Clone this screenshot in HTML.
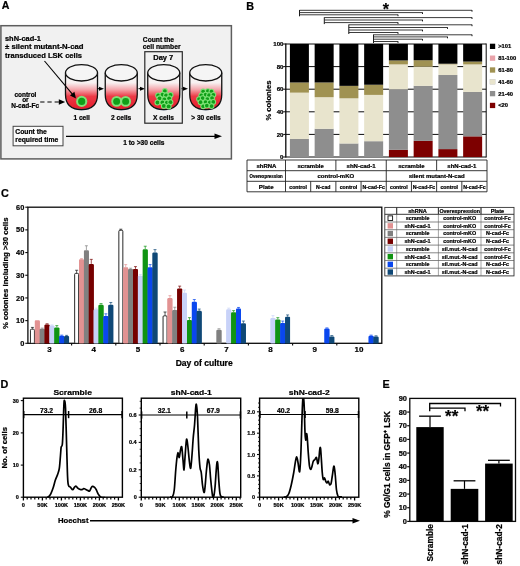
<!DOCTYPE html>
<html><head><meta charset="utf-8"><title>Figure</title>
<style>html,body{margin:0;padding:0;background:#fff;}body{width:520px;height:566px;overflow:hidden;}svg{display:block;filter:blur(0.25px);font-family:'Liberation Sans', sans-serif;}text{font-family:"Liberation Sans",sans-serif;stroke:#000;stroke-width:0.22px;}</style>
</head><body>
<svg width="520" height="566" viewBox="0 0 520 566">
<defs><linearGradient id="tubeg" x1="0" y1="0" x2="0" y2="1" gradientUnits="objectBoundingBox"><stop offset="0" stop-color="#f6f6f6"/><stop offset="0.27" stop-color="#f8f1f1"/><stop offset="0.45" stop-color="#f4a8ae"/><stop offset="0.64" stop-color="#ec3a46"/><stop offset="1" stop-color="#e51a2a"/></linearGradient></defs>
<rect width="520" height="566" fill="#fff"/>
<text x="1.7" y="9.1" font-size="10.6" font-weight="bold" fill="#000">A</text>
<rect x="0.90" y="25.70" width="230.50" height="133.20" fill="#f1f1f1" stroke="#5e5e5e" stroke-width="1.5"/>
<text x="5" y="40.6" font-size="7.3" font-weight="bold" fill="#000" textLength="35.8" lengthAdjust="spacingAndGlyphs">shN-cad-1</text>
<text x="5" y="49.2" font-size="7.3" font-weight="bold" fill="#000" textLength="78.5" lengthAdjust="spacingAndGlyphs">± silent mutant-N-cad</text>
<text x="5" y="57.9" font-size="7.3" font-weight="bold" fill="#000" textLength="77" lengthAdjust="spacingAndGlyphs">transduced LSK cells</text>
<text x="25.4" y="97" font-size="6.5" font-weight="bold" fill="#000" text-anchor="middle">control</text>
<text x="25.4" y="102.4" font-size="6.5" font-weight="bold" fill="#000" text-anchor="middle">or</text>
<text x="25.1" y="107.9" font-size="6.5" font-weight="bold" fill="#000" text-anchor="middle">N-cad-Fc</text>
<line x1="40.2" y1="102" x2="59" y2="102" stroke="#000" stroke-width="1.1" stroke-dasharray="4.3 2.9"/>
<polygon points="65.2,102 58.8,99.3 58.8,104.7" fill="#000"/>
<path d="M65.5,72.8 L65.5,94.5 C65.5,105.5 72.5,109.6 81.5,109.6 C90.5,109.6 97.5,105.5 97.5,94.5 L97.5,72.8 Z" fill="url(#tubeg)"/>
<path d="M73.5,108.4 Q81.5,110.8 89.5,108.4" fill="none" stroke="#5a7fae" stroke-width="1.2"/>
<path d="M65.5,72.8 L65.5,94.5 C65.5,105.5 72.5,109.6 81.5,109.6 C90.5,109.6 97.5,105.5 97.5,94.5 L97.5,72.8" fill="none" stroke="#111" stroke-width="1.3"/>
<ellipse cx="81.5" cy="72.8" rx="16" ry="8.2" fill="#f5f5f5" stroke="#111" stroke-width="1.3"/>
<circle cx="81.70" cy="101.40" r="5.60" fill="#7fe277"/>
<circle cx="81.70" cy="101.40" r="3.58" fill="#0f9f18"/>
<path d="M105.25,72.8 L105.25,94.5 C105.25,105.5 112.25,109.6 121.25,109.6 C130.25,109.6 137.25,105.5 137.25,94.5 L137.25,72.8 Z" fill="url(#tubeg)"/>
<path d="M113.25,108.4 Q121.25,110.8 129.25,108.4" fill="none" stroke="#5a7fae" stroke-width="1.2"/>
<path d="M105.25,72.8 L105.25,94.5 C105.25,105.5 112.25,109.6 121.25,109.6 C130.25,109.6 137.25,105.5 137.25,94.5 L137.25,72.8" fill="none" stroke="#111" stroke-width="1.3"/>
<ellipse cx="121.25" cy="72.8" rx="16" ry="8.2" fill="#f5f5f5" stroke="#111" stroke-width="1.3"/>
<circle cx="116.65" cy="101.40" r="5.40" fill="#7fe277"/>
<circle cx="116.65" cy="101.40" r="3.46" fill="#0f9f18"/>
<circle cx="125.65" cy="101.40" r="5.40" fill="#7fe277"/>
<circle cx="125.65" cy="101.40" r="3.46" fill="#0f9f18"/>
<path d="M147.75,72.8 L147.75,94.5 C147.75,105.5 154.75,109.6 163.75,109.6 C172.75,109.6 179.75,105.5 179.75,94.5 L179.75,72.8 Z" fill="url(#tubeg)"/>
<path d="M155.75,108.4 Q163.75,110.8 171.75,108.4" fill="none" stroke="#5a7fae" stroke-width="1.2"/>
<path d="M147.75,72.8 L147.75,94.5 C147.75,105.5 154.75,109.6 163.75,109.6 C172.75,109.6 179.75,105.5 179.75,94.5 L179.75,72.8" fill="none" stroke="#111" stroke-width="1.3"/>
<ellipse cx="163.75" cy="72.8" rx="16" ry="8.2" fill="#f5f5f5" stroke="#111" stroke-width="1.3"/>
<circle cx="164.85" cy="91.06" r="3.00" fill="#7fe277"/>
<circle cx="164.85" cy="91.06" r="1.92" fill="#0f9f18"/>
<circle cx="158.18" cy="95.48" r="3.00" fill="#7fe277"/>
<circle cx="158.18" cy="95.48" r="1.92" fill="#0f9f18"/>
<circle cx="162.58" cy="94.75" r="3.00" fill="#7fe277"/>
<circle cx="162.58" cy="94.75" r="1.92" fill="#0f9f18"/>
<circle cx="166.13" cy="95.30" r="3.00" fill="#7fe277"/>
<circle cx="166.13" cy="95.30" r="1.92" fill="#0f9f18"/>
<circle cx="170.52" cy="94.96" r="3.00" fill="#7fe277"/>
<circle cx="170.52" cy="94.96" r="1.92" fill="#0f9f18"/>
<circle cx="159.55" cy="98.31" r="3.00" fill="#7fe277"/>
<circle cx="159.55" cy="98.31" r="1.92" fill="#0f9f18"/>
<circle cx="164.35" cy="99.30" r="3.00" fill="#7fe277"/>
<circle cx="164.35" cy="99.30" r="1.92" fill="#0f9f18"/>
<circle cx="169.15" cy="98.31" r="3.00" fill="#7fe277"/>
<circle cx="169.15" cy="98.31" r="1.92" fill="#0f9f18"/>
<circle cx="157.45" cy="102.52" r="3.00" fill="#7fe277"/>
<circle cx="157.45" cy="102.52" r="1.92" fill="#0f9f18"/>
<circle cx="162.48" cy="102.41" r="3.00" fill="#7fe277"/>
<circle cx="162.48" cy="102.41" r="1.92" fill="#0f9f18"/>
<circle cx="166.87" cy="102.75" r="3.00" fill="#7fe277"/>
<circle cx="166.87" cy="102.75" r="1.92" fill="#0f9f18"/>
<circle cx="170.42" cy="102.20" r="3.00" fill="#7fe277"/>
<circle cx="170.42" cy="102.20" r="1.92" fill="#0f9f18"/>
<circle cx="163.85" cy="105.95" r="3.00" fill="#7fe277"/>
<circle cx="163.85" cy="105.95" r="1.92" fill="#0f9f18"/>
<circle cx="168.66" cy="106.44" r="3.00" fill="#7fe277"/>
<circle cx="168.66" cy="106.44" r="1.92" fill="#0f9f18"/>
<path d="M189.75,72.8 L189.75,94.5 C189.75,105.5 196.75,109.6 205.75,109.6 C214.75,109.6 221.75,105.5 221.75,94.5 L221.75,72.8 Z" fill="url(#tubeg)"/>
<path d="M197.75,108.4 Q205.75,110.8 213.75,108.4" fill="none" stroke="#5a7fae" stroke-width="1.2"/>
<path d="M189.75,72.8 L189.75,94.5 C189.75,105.5 196.75,109.6 205.75,109.6 C214.75,109.6 221.75,105.5 221.75,94.5 L221.75,72.8" fill="none" stroke="#111" stroke-width="1.3"/>
<ellipse cx="205.75" cy="72.8" rx="16" ry="8.2" fill="#f5f5f5" stroke="#111" stroke-width="1.3"/>
<circle cx="203.14" cy="91.51" r="2.90" fill="#7fe277"/>
<circle cx="203.14" cy="91.51" r="1.86" fill="#0f9f18"/>
<circle cx="207.85" cy="91.03" r="2.90" fill="#7fe277"/>
<circle cx="207.85" cy="91.03" r="1.86" fill="#0f9f18"/>
<circle cx="211.43" cy="91.71" r="2.90" fill="#7fe277"/>
<circle cx="211.43" cy="91.71" r="1.86" fill="#0f9f18"/>
<circle cx="201.33" cy="95.37" r="2.90" fill="#7fe277"/>
<circle cx="201.33" cy="95.37" r="1.86" fill="#0f9f18"/>
<circle cx="205.63" cy="94.64" r="2.90" fill="#7fe277"/>
<circle cx="205.63" cy="94.64" r="1.86" fill="#0f9f18"/>
<circle cx="209.08" cy="95.19" r="2.90" fill="#7fe277"/>
<circle cx="209.08" cy="95.19" r="1.86" fill="#0f9f18"/>
<circle cx="213.37" cy="94.85" r="2.90" fill="#7fe277"/>
<circle cx="213.37" cy="94.85" r="1.86" fill="#0f9f18"/>
<circle cx="199.08" cy="99.04" r="2.90" fill="#7fe277"/>
<circle cx="199.08" cy="99.04" r="1.86" fill="#0f9f18"/>
<circle cx="202.65" cy="98.11" r="2.90" fill="#7fe277"/>
<circle cx="202.65" cy="98.11" r="1.86" fill="#0f9f18"/>
<circle cx="207.35" cy="99.10" r="2.90" fill="#7fe277"/>
<circle cx="207.35" cy="99.10" r="1.86" fill="#0f9f18"/>
<circle cx="212.05" cy="98.11" r="2.90" fill="#7fe277"/>
<circle cx="212.05" cy="98.11" r="1.86" fill="#0f9f18"/>
<circle cx="200.60" cy="102.23" r="2.90" fill="#7fe277"/>
<circle cx="200.60" cy="102.23" r="1.86" fill="#0f9f18"/>
<circle cx="205.53" cy="102.12" r="2.90" fill="#7fe277"/>
<circle cx="205.53" cy="102.12" r="1.86" fill="#0f9f18"/>
<circle cx="209.82" cy="102.46" r="2.90" fill="#7fe277"/>
<circle cx="209.82" cy="102.46" r="1.86" fill="#0f9f18"/>
<circle cx="213.27" cy="101.91" r="2.90" fill="#7fe277"/>
<circle cx="213.27" cy="101.91" r="1.86" fill="#0f9f18"/>
<circle cx="203.27" cy="106.26" r="2.90" fill="#7fe277"/>
<circle cx="203.27" cy="106.26" r="1.86" fill="#0f9f18"/>
<circle cx="206.85" cy="105.58" r="2.90" fill="#7fe277"/>
<circle cx="206.85" cy="105.58" r="1.86" fill="#0f9f18"/>
<circle cx="211.56" cy="106.06" r="2.90" fill="#7fe277"/>
<circle cx="211.56" cy="106.06" r="1.86" fill="#0f9f18"/>
<line x1="44.5" y1="61" x2="73.2" y2="95.2" stroke="#000" stroke-width="1.1"/>
<polygon points="76,98.5 70.0,95.4 74.4,91.8" fill="#000"/>
<polygon points="104.0,88.7 99.0,86.7 99.0,90.7" fill="#000"/>
<line x1="97.5" y1="88.7" x2="99.5" y2="88.7" stroke="#000" stroke-width="1"/>
<polygon points="145.0,88.7 140.0,86.7 140.0,90.7" fill="#000"/>
<line x1="138.5" y1="88.7" x2="140.5" y2="88.7" stroke="#000" stroke-width="1"/>
<polygon points="188.0,88.7 183.0,86.7 183.0,90.7" fill="#000"/>
<line x1="181.5" y1="88.7" x2="183.5" y2="88.7" stroke="#000" stroke-width="1"/>
<rect x="144.80" y="51.70" width="37.50" height="71.50" fill="none" stroke="#2a2a2a" stroke-width="1.2"/>
<text x="142.8" y="41.6" font-size="6.7" font-weight="bold" fill="#000">Count the</text>
<text x="142.8" y="49.1" font-size="6.7" font-weight="bold" fill="#000" textLength="37.8" lengthAdjust="spacingAndGlyphs">cell number</text>
<text x="163.3" y="60.4" font-size="7.5" font-weight="bold" fill="#000" text-anchor="middle">Day 7</text>
<text x="81.7" y="119.5" font-size="6.6" font-weight="bold" fill="#000" text-anchor="middle">1 cell</text>
<text x="121.2" y="119.5" font-size="6.6" font-weight="bold" fill="#000" text-anchor="middle">2 cells</text>
<text x="163.5" y="119.5" font-size="6.6" font-weight="bold" fill="#000" text-anchor="middle">X cells</text>
<text x="206" y="119.5" font-size="6.6" font-weight="bold" fill="#000" text-anchor="middle">&gt; 30 cells</text>
<rect x="13.10" y="126.30" width="49.90" height="19.50" fill="#fbfbfb" stroke="#444" stroke-width="1"/>
<text x="15.3" y="134.2" font-size="6.8" font-weight="bold" fill="#000" textLength="31.6" lengthAdjust="spacingAndGlyphs">Count the</text>
<text x="15.3" y="142.2" font-size="6.8" font-weight="bold" fill="#000" textLength="43" lengthAdjust="spacingAndGlyphs">required time</text>
<line x1="66" y1="136.4" x2="216" y2="136.4" stroke="#000" stroke-width="1.3"/>
<polygon points="222,136.3 214.5,133.6 214.5,139" fill="#000"/>
<text x="143.8" y="145" font-size="6.6" font-weight="bold" fill="#000" text-anchor="middle">1 to &gt;30 cells</text>
<text x="246.3" y="9.6" font-size="10.8" font-weight="bold" fill="#000">B</text>
<line x1="299.5" y1="10.0" x2="299.5" y2="16.3" stroke="#1a1a1a" stroke-width="1.0"/>
<line x1="299.5" y1="10.3" x2="472.0" y2="10.3" stroke="#262626" stroke-width="0.9"/>
<line x1="472.0" y1="10.100000000000001" x2="472.0" y2="11.700000000000001" stroke="#1a1a1a" stroke-width="1.0"/>
<line x1="299.5" y1="12.6" x2="422.5" y2="12.6" stroke="#262626" stroke-width="0.9"/>
<line x1="422.5" y1="12.4" x2="422.5" y2="14.0" stroke="#1a1a1a" stroke-width="1.0"/>
<line x1="299.5" y1="14.8" x2="398.0" y2="14.8" stroke="#262626" stroke-width="0.9"/>
<line x1="398.0" y1="14.600000000000001" x2="398.0" y2="16.2" stroke="#1a1a1a" stroke-width="1.0"/>
<line x1="324.3" y1="17.3" x2="324.3" y2="24.1" stroke="#1a1a1a" stroke-width="1.0"/>
<line x1="324.3" y1="17.6" x2="472.0" y2="17.6" stroke="#262626" stroke-width="0.9"/>
<line x1="472.0" y1="17.400000000000002" x2="472.0" y2="19.0" stroke="#1a1a1a" stroke-width="1.0"/>
<line x1="324.3" y1="20.0" x2="422.5" y2="20.0" stroke="#262626" stroke-width="0.9"/>
<line x1="422.5" y1="19.8" x2="422.5" y2="21.4" stroke="#1a1a1a" stroke-width="1.0"/>
<line x1="324.3" y1="22.6" x2="398.0" y2="22.6" stroke="#262626" stroke-width="0.9"/>
<line x1="398.0" y1="22.400000000000002" x2="398.0" y2="24.0" stroke="#1a1a1a" stroke-width="1.0"/>
<line x1="348.8" y1="24.5" x2="348.8" y2="34.0" stroke="#1a1a1a" stroke-width="1.0"/>
<line x1="348.8" y1="24.8" x2="472.0" y2="24.8" stroke="#262626" stroke-width="0.9"/>
<line x1="472.0" y1="24.6" x2="472.0" y2="26.2" stroke="#1a1a1a" stroke-width="1.0"/>
<line x1="348.8" y1="27.5" x2="447.5" y2="27.5" stroke="#262626" stroke-width="0.9"/>
<line x1="447.5" y1="27.3" x2="447.5" y2="28.9" stroke="#1a1a1a" stroke-width="1.0"/>
<line x1="348.8" y1="30.0" x2="422.5" y2="30.0" stroke="#262626" stroke-width="0.9"/>
<line x1="422.5" y1="29.8" x2="422.5" y2="31.4" stroke="#1a1a1a" stroke-width="1.0"/>
<line x1="348.8" y1="32.5" x2="398.0" y2="32.5" stroke="#262626" stroke-width="0.9"/>
<line x1="398.0" y1="32.3" x2="398.0" y2="33.9" stroke="#1a1a1a" stroke-width="1.0"/>
<line x1="373.5" y1="34.5" x2="373.5" y2="43.0" stroke="#1a1a1a" stroke-width="1.0"/>
<line x1="373.5" y1="34.8" x2="472.0" y2="34.8" stroke="#262626" stroke-width="0.9"/>
<line x1="472.0" y1="34.599999999999994" x2="472.0" y2="36.199999999999996" stroke="#1a1a1a" stroke-width="1.0"/>
<line x1="373.5" y1="36.9" x2="447.5" y2="36.9" stroke="#262626" stroke-width="0.9"/>
<line x1="447.5" y1="36.699999999999996" x2="447.5" y2="38.3" stroke="#1a1a1a" stroke-width="1.0"/>
<line x1="373.5" y1="39.2" x2="422.5" y2="39.2" stroke="#262626" stroke-width="0.9"/>
<line x1="422.5" y1="39.0" x2="422.5" y2="40.6" stroke="#1a1a1a" stroke-width="1.0"/>
<line x1="373.5" y1="41.5" x2="398.0" y2="41.5" stroke="#262626" stroke-width="0.9"/>
<line x1="398.0" y1="41.3" x2="398.0" y2="42.9" stroke="#1a1a1a" stroke-width="1.0"/>
<text x="385.8" y="14.9" font-size="16" font-weight="bold" fill="#000" text-anchor="middle">*</text>
<line x1="283.2" y1="134.4" x2="486.2" y2="134.4" stroke="#0a0a0a" stroke-width="1.0"/>
<line x1="283.2" y1="111.8" x2="486.2" y2="111.8" stroke="#0a0a0a" stroke-width="1.0"/>
<line x1="283.2" y1="89.2" x2="486.2" y2="89.2" stroke="#0a0a0a" stroke-width="1.0"/>
<line x1="283.2" y1="66.6" x2="486.2" y2="66.6" stroke="#0a0a0a" stroke-width="1.0"/>
<line x1="283.2" y1="44.0" x2="486.2" y2="44.0" stroke="#0a0a0a" stroke-width="1.0"/>
<line x1="285.8" y1="43.5" x2="285.8" y2="157.5" stroke="#0a0a0a" stroke-width="1.3"/>
<line x1="486.2" y1="43.5" x2="486.2" y2="157.5" stroke="#0a0a0a" stroke-width="1.0"/>
<line x1="283.2" y1="157.0" x2="486.2" y2="157.0" stroke="#0a0a0a" stroke-width="1.2"/>
<rect x="289.90" y="138.92" width="19.00" height="18.13" fill="#8e8e8e" stroke="none" stroke-width="1"/>
<rect x="289.90" y="92.59" width="19.00" height="46.38" fill="#e8e4cd" stroke="none" stroke-width="1"/>
<rect x="289.90" y="82.42" width="19.00" height="10.22" fill="#a09252" stroke="none" stroke-width="1"/>
<rect x="289.90" y="44.00" width="19.00" height="38.47" fill="#000" stroke="none" stroke-width="1"/>
<rect x="314.65" y="128.75" width="19.00" height="28.30" fill="#8e8e8e" stroke="none" stroke-width="1"/>
<rect x="314.65" y="97.11" width="19.00" height="31.69" fill="#e8e4cd" stroke="none" stroke-width="1"/>
<rect x="314.65" y="82.42" width="19.00" height="14.74" fill="#a09252" stroke="none" stroke-width="1"/>
<rect x="314.65" y="44.00" width="19.00" height="38.47" fill="#000" stroke="none" stroke-width="1"/>
<rect x="339.40" y="143.44" width="19.00" height="13.61" fill="#8e8e8e" stroke="none" stroke-width="1"/>
<rect x="339.40" y="98.24" width="19.00" height="45.25" fill="#e8e4cd" stroke="none" stroke-width="1"/>
<rect x="339.40" y="85.81" width="19.00" height="12.48" fill="#a09252" stroke="none" stroke-width="1"/>
<rect x="339.40" y="44.00" width="19.00" height="41.86" fill="#000" stroke="none" stroke-width="1"/>
<rect x="364.15" y="141.18" width="19.00" height="15.87" fill="#8e8e8e" stroke="none" stroke-width="1"/>
<rect x="364.15" y="94.85" width="19.00" height="46.38" fill="#e8e4cd" stroke="none" stroke-width="1"/>
<rect x="364.15" y="84.68" width="19.00" height="10.22" fill="#a09252" stroke="none" stroke-width="1"/>
<rect x="364.15" y="44.00" width="19.00" height="40.73" fill="#000" stroke="none" stroke-width="1"/>
<rect x="388.90" y="149.77" width="19.00" height="7.28" fill="#7d0000" stroke="none" stroke-width="1"/>
<rect x="388.90" y="89.20" width="19.00" height="60.62" fill="#8e8e8e" stroke="none" stroke-width="1"/>
<rect x="388.90" y="64.34" width="19.00" height="24.91" fill="#e8e4cd" stroke="none" stroke-width="1"/>
<rect x="388.90" y="60.39" width="19.00" height="4.00" fill="#a09252" stroke="none" stroke-width="1"/>
<rect x="388.90" y="44.00" width="19.00" height="16.44" fill="#000" stroke="none" stroke-width="1"/>
<rect x="413.65" y="140.84" width="19.00" height="16.21" fill="#7d0000" stroke="none" stroke-width="1"/>
<rect x="413.65" y="85.81" width="19.00" height="55.08" fill="#8e8e8e" stroke="none" stroke-width="1"/>
<rect x="413.65" y="66.60" width="19.00" height="19.26" fill="#e8e4cd" stroke="none" stroke-width="1"/>
<rect x="413.65" y="60.16" width="19.00" height="6.49" fill="#a09252" stroke="none" stroke-width="1"/>
<rect x="413.65" y="44.00" width="19.00" height="16.21" fill="#000" stroke="none" stroke-width="1"/>
<rect x="438.40" y="149.09" width="19.00" height="7.96" fill="#7d0000" stroke="none" stroke-width="1"/>
<rect x="438.40" y="74.96" width="19.00" height="74.18" fill="#8e8e8e" stroke="none" stroke-width="1"/>
<rect x="438.40" y="64.34" width="19.00" height="10.67" fill="#e8e4cd" stroke="none" stroke-width="1"/>
<rect x="438.40" y="63.66" width="19.00" height="0.73" fill="#a09252" stroke="none" stroke-width="1"/>
<rect x="438.40" y="44.00" width="19.00" height="19.71" fill="#000" stroke="none" stroke-width="1"/>
<rect x="463.15" y="136.32" width="19.00" height="20.73" fill="#7d0000" stroke="none" stroke-width="1"/>
<rect x="463.15" y="91.91" width="19.00" height="44.46" fill="#8e8e8e" stroke="none" stroke-width="1"/>
<rect x="463.15" y="64.34" width="19.00" height="27.62" fill="#e8e4cd" stroke="none" stroke-width="1"/>
<rect x="463.15" y="61.52" width="19.00" height="2.88" fill="#a09252" stroke="none" stroke-width="1"/>
<rect x="463.15" y="44.00" width="19.00" height="17.57" fill="#000" stroke="none" stroke-width="1"/>
<text x="283.5" y="159.2" font-size="6.1" font-weight="bold" fill="#000" text-anchor="end">0</text>
<text x="283.5" y="136.6" font-size="6.1" font-weight="bold" fill="#000" text-anchor="end">20</text>
<text x="283.5" y="114.0" font-size="6.1" font-weight="bold" fill="#000" text-anchor="end">40</text>
<text x="283.5" y="91.4" font-size="6.1" font-weight="bold" fill="#000" text-anchor="end">60</text>
<text x="283.5" y="68.8" font-size="6.1" font-weight="bold" fill="#000" text-anchor="end">80</text>
<text x="283.5" y="46.2" font-size="6.1" font-weight="bold" fill="#000" text-anchor="end">100</text>
<text x="270.8" y="100.6" font-size="7.6" font-weight="bold" fill="#000" text-anchor="middle" textLength="40" lengthAdjust="spacingAndGlyphs" transform="rotate(-90 270.8 100.6)">% colonies</text>
<rect x="489.90" y="43.70" width="5.30" height="5.30" fill="#000" stroke="none" stroke-width="0.3"/>
<text x="498.2" y="48.3" font-size="5.8" font-weight="bold" fill="#000">&gt;101</text>
<rect x="489.90" y="55.52" width="5.30" height="5.30" fill="#e9a3aa" stroke="none" stroke-width="0.3"/>
<text x="498.2" y="60.12" font-size="5.8" font-weight="bold" fill="#000">81-100</text>
<rect x="489.90" y="67.34" width="5.30" height="5.30" fill="#a09252" stroke="none" stroke-width="0.3"/>
<text x="498.2" y="71.94" font-size="5.8" font-weight="bold" fill="#000">61-80</text>
<rect x="489.90" y="79.16" width="5.30" height="5.30" fill="#e8e4cd" stroke="#bbb" stroke-width="0.3"/>
<text x="498.2" y="83.76" font-size="5.8" font-weight="bold" fill="#000">41-60</text>
<rect x="489.90" y="90.98" width="5.30" height="5.30" fill="#8e8e8e" stroke="none" stroke-width="0.3"/>
<text x="498.2" y="95.58" font-size="5.8" font-weight="bold" fill="#000">21-40</text>
<rect x="489.90" y="102.80" width="5.30" height="5.30" fill="#7d0000" stroke="none" stroke-width="0.3"/>
<text x="498.2" y="107.4" font-size="5.8" font-weight="bold" fill="#000">&lt;20</text>
<line x1="247.0" y1="160.0" x2="487.0" y2="160.0" stroke="#222" stroke-width="0.9"/>
<line x1="247.0" y1="170.7" x2="487.0" y2="170.7" stroke="#222" stroke-width="0.9"/>
<line x1="247.0" y1="181.3" x2="487.0" y2="181.3" stroke="#222" stroke-width="0.9"/>
<line x1="247.0" y1="191.8" x2="487.0" y2="191.8" stroke="#222" stroke-width="0.9"/>
<line x1="247.0" y1="160.0" x2="247.0" y2="191.8" stroke="#222" stroke-width="0.9"/>
<line x1="487.0" y1="160.0" x2="487.0" y2="191.8" stroke="#222" stroke-width="0.9"/>
<line x1="285.5" y1="160.0" x2="285.5" y2="191.8" stroke="#222" stroke-width="0.9"/>
<line x1="386.26" y1="160.0" x2="386.26" y2="191.8" stroke="#222" stroke-width="0.9"/>
<line x1="335.88" y1="160.0" x2="335.88" y2="170.7" stroke="#222" stroke-width="0.9"/>
<line x1="436.64" y1="160.0" x2="436.64" y2="170.7" stroke="#222" stroke-width="0.9"/>
<line x1="310.69" y1="181.3" x2="310.69" y2="191.8" stroke="#222" stroke-width="0.9"/>
<line x1="335.88" y1="181.3" x2="335.88" y2="191.8" stroke="#222" stroke-width="0.9"/>
<line x1="361.07" y1="181.3" x2="361.07" y2="191.8" stroke="#222" stroke-width="0.9"/>
<line x1="411.45" y1="181.3" x2="411.45" y2="191.8" stroke="#222" stroke-width="0.9"/>
<line x1="436.64" y1="181.3" x2="436.64" y2="191.8" stroke="#222" stroke-width="0.9"/>
<line x1="461.83000000000004" y1="181.3" x2="461.83000000000004" y2="191.8" stroke="#222" stroke-width="0.9"/>
<text x="266.4" y="167.7" font-size="6.0" font-weight="bold" fill="#000" text-anchor="middle">shRNA</text>
<text x="266.2" y="177.9" font-size="5.0" font-weight="bold" fill="#000" text-anchor="middle" textLength="33.2" lengthAdjust="spacingAndGlyphs">Overexpression</text>
<text x="266.2" y="188.8" font-size="6.2" font-weight="bold" fill="#000" text-anchor="middle">Plate</text>
<text x="310.69" y="167.7" font-size="6.0" font-weight="bold" fill="#000" text-anchor="middle">scramble</text>
<text x="361.07" y="167.7" font-size="6.0" font-weight="bold" fill="#000" text-anchor="middle">shN-cad-1</text>
<text x="411.45" y="167.7" font-size="6.0" font-weight="bold" fill="#000" text-anchor="middle">scramble</text>
<text x="461.83" y="167.7" font-size="6.0" font-weight="bold" fill="#000" text-anchor="middle">shN-cad-1</text>
<text x="335.88" y="178.2" font-size="6.0" font-weight="bold" fill="#000" text-anchor="middle">control-mKO</text>
<text x="436.64" y="178.2" font-size="6.0" font-weight="bold" fill="#000" text-anchor="middle">silent mutant-N-cad</text>
<text x="298.1" y="188.7" font-size="5.2" font-weight="bold" fill="#000" text-anchor="middle">control</text>
<text x="323.28" y="188.7" font-size="5.2" font-weight="bold" fill="#000" text-anchor="middle">N-cad</text>
<text x="348.48" y="188.7" font-size="5.2" font-weight="bold" fill="#000" text-anchor="middle">control</text>
<text x="373.66" y="188.7" font-size="5.2" font-weight="bold" fill="#000" text-anchor="middle" textLength="22.5" lengthAdjust="spacingAndGlyphs">N-cad-Fc</text>
<text x="398.86" y="188.7" font-size="5.2" font-weight="bold" fill="#000" text-anchor="middle">control</text>
<text x="424.04" y="188.7" font-size="5.2" font-weight="bold" fill="#000" text-anchor="middle" textLength="22.5" lengthAdjust="spacingAndGlyphs">N-cad-Fc</text>
<text x="449.24" y="188.7" font-size="5.2" font-weight="bold" fill="#000" text-anchor="middle">control</text>
<text x="474.43" y="188.7" font-size="5.2" font-weight="bold" fill="#000" text-anchor="middle" textLength="22.5" lengthAdjust="spacingAndGlyphs">N-cad-Fc</text>
<text x="0.9" y="196.6" font-size="10.8" font-weight="bold" fill="#000">C</text>
<rect x="27.90" y="207.20" width="353.90" height="136.10" fill="#fff" stroke="#0a0a0a" stroke-width="1.3"/>
<line x1="32.44" y1="327.42" x2="32.44" y2="328.78" stroke="#111" stroke-width="0.7"/>
<line x1="30.94" y1="327.42" x2="33.94" y2="327.42" stroke="#111" stroke-width="0.7"/>
<rect x="30.45" y="329.18" width="3.98" height="14.12" fill="#fff" stroke="#111" stroke-width="0.9" rx="1"/>
<rect x="34.88" y="320.16" width="4.88" height="23.14" fill="#e29292" stroke="none" stroke-width="1" rx="0.8"/>
<rect x="34.88" y="321.16" width="4.88" height="22.14" fill="#e29292" stroke="none" stroke-width="1"/>
<line x1="42.2" y1="328.1" x2="42.2" y2="328.78" stroke="#808080" stroke-width="0.7"/>
<line x1="40.7" y1="328.1" x2="43.7" y2="328.1" stroke="#808080" stroke-width="0.7"/>
<rect x="39.76" y="328.78" width="4.88" height="14.52" fill="#808080" stroke="none" stroke-width="1" rx="0.8"/>
<rect x="39.76" y="329.78" width="4.88" height="13.52" fill="#808080" stroke="none" stroke-width="1"/>
<line x1="47.08" y1="323.79" x2="47.08" y2="324.47" stroke="#760000" stroke-width="0.7"/>
<line x1="45.58" y1="323.79" x2="48.58" y2="323.79" stroke="#760000" stroke-width="0.7"/>
<rect x="44.64" y="324.47" width="4.88" height="18.83" fill="#760000" stroke="none" stroke-width="1" rx="0.8"/>
<rect x="44.64" y="325.47" width="4.88" height="17.83" fill="#760000" stroke="none" stroke-width="1"/>
<line x1="51.96" y1="324.93" x2="51.96" y2="325.61" stroke="#c8d2f8" stroke-width="0.7"/>
<line x1="50.46" y1="324.93" x2="53.46" y2="324.93" stroke="#c8d2f8" stroke-width="0.7"/>
<rect x="49.52" y="325.61" width="4.88" height="17.69" fill="#c8d2f8" stroke="none" stroke-width="1" rx="0.8"/>
<rect x="49.52" y="326.61" width="4.88" height="16.69" fill="#c8d2f8" stroke="none" stroke-width="1"/>
<line x1="56.84" y1="325.61" x2="56.84" y2="327.42" stroke="#109413" stroke-width="0.7"/>
<line x1="55.34" y1="325.61" x2="58.34" y2="325.61" stroke="#109413" stroke-width="0.7"/>
<rect x="54.40" y="327.42" width="4.88" height="15.88" fill="#109413" stroke="none" stroke-width="1" rx="0.8"/>
<rect x="54.40" y="328.42" width="4.88" height="14.88" fill="#109413" stroke="none" stroke-width="1"/>
<line x1="61.72" y1="335.13" x2="61.72" y2="335.81" stroke="#0a47ee" stroke-width="0.7"/>
<line x1="60.22" y1="335.13" x2="63.22" y2="335.13" stroke="#0a47ee" stroke-width="0.7"/>
<rect x="59.28" y="335.81" width="4.88" height="7.49" fill="#0a47ee" stroke="none" stroke-width="1" rx="0.8"/>
<rect x="59.28" y="336.81" width="4.88" height="6.49" fill="#0a47ee" stroke="none" stroke-width="1"/>
<line x1="66.6" y1="335.36" x2="66.6" y2="336.04" stroke="#0f4876" stroke-width="0.7"/>
<line x1="65.1" y1="335.36" x2="68.1" y2="335.36" stroke="#0f4876" stroke-width="0.7"/>
<rect x="64.16" y="336.04" width="4.88" height="7.26" fill="#0f4876" stroke="none" stroke-width="1" rx="0.8"/>
<rect x="64.16" y="337.04" width="4.88" height="6.26" fill="#0f4876" stroke="none" stroke-width="1"/>
<line x1="76.64" y1="270.26" x2="76.64" y2="272.98" stroke="#111" stroke-width="0.7"/>
<line x1="75.14" y1="270.26" x2="78.14" y2="270.26" stroke="#111" stroke-width="0.7"/>
<rect x="74.65" y="273.38" width="3.98" height="69.92" fill="#fff" stroke="#111" stroke-width="0.9" rx="1"/>
<line x1="81.52" y1="258.69" x2="81.52" y2="259.37" stroke="#e29292" stroke-width="0.7"/>
<line x1="80.02" y1="258.69" x2="83.02" y2="258.69" stroke="#e29292" stroke-width="0.7"/>
<rect x="79.08" y="259.37" width="4.88" height="83.93" fill="#e29292" stroke="none" stroke-width="1" rx="0.8"/>
<rect x="79.08" y="260.37" width="4.88" height="82.93" fill="#e29292" stroke="none" stroke-width="1"/>
<line x1="86.4" y1="245.76" x2="86.4" y2="250.3" stroke="#808080" stroke-width="0.7"/>
<line x1="84.9" y1="245.76" x2="87.9" y2="245.76" stroke="#808080" stroke-width="0.7"/>
<rect x="83.96" y="250.30" width="4.88" height="93.00" fill="#808080" stroke="none" stroke-width="1" rx="0.8"/>
<rect x="83.96" y="251.30" width="4.88" height="92.00" fill="#808080" stroke="none" stroke-width="1"/>
<line x1="91.28" y1="259.37" x2="91.28" y2="263.91" stroke="#760000" stroke-width="0.7"/>
<line x1="89.78" y1="259.37" x2="92.78" y2="259.37" stroke="#760000" stroke-width="0.7"/>
<rect x="88.84" y="263.91" width="4.88" height="79.39" fill="#760000" stroke="none" stroke-width="1" rx="0.8"/>
<rect x="88.84" y="264.91" width="4.88" height="78.39" fill="#760000" stroke="none" stroke-width="1"/>
<line x1="96.16" y1="308.14" x2="96.16" y2="309.27" stroke="#c8d2f8" stroke-width="0.7"/>
<line x1="94.66" y1="308.14" x2="97.66" y2="308.14" stroke="#c8d2f8" stroke-width="0.7"/>
<rect x="93.72" y="309.27" width="4.88" height="34.03" fill="#c8d2f8" stroke="none" stroke-width="1" rx="0.8"/>
<rect x="93.72" y="310.27" width="4.88" height="33.03" fill="#c8d2f8" stroke="none" stroke-width="1"/>
<line x1="101.04" y1="303.6" x2="101.04" y2="304.74" stroke="#109413" stroke-width="0.7"/>
<line x1="99.54" y1="303.6" x2="102.54" y2="303.6" stroke="#109413" stroke-width="0.7"/>
<rect x="98.60" y="304.74" width="4.88" height="38.56" fill="#109413" stroke="none" stroke-width="1" rx="0.8"/>
<rect x="98.60" y="305.74" width="4.88" height="37.56" fill="#109413" stroke="none" stroke-width="1"/>
<line x1="105.92" y1="313.81" x2="105.92" y2="316.08" stroke="#0a47ee" stroke-width="0.7"/>
<line x1="104.42" y1="313.81" x2="107.42" y2="313.81" stroke="#0a47ee" stroke-width="0.7"/>
<rect x="103.48" y="316.08" width="4.88" height="27.22" fill="#0a47ee" stroke="none" stroke-width="1" rx="0.8"/>
<rect x="103.48" y="317.08" width="4.88" height="26.22" fill="#0a47ee" stroke="none" stroke-width="1"/>
<line x1="110.8" y1="302.47" x2="110.8" y2="304.74" stroke="#0f4876" stroke-width="0.7"/>
<line x1="109.3" y1="302.47" x2="112.3" y2="302.47" stroke="#0f4876" stroke-width="0.7"/>
<rect x="108.36" y="304.74" width="4.88" height="38.56" fill="#0f4876" stroke="none" stroke-width="1" rx="0.8"/>
<rect x="108.36" y="305.74" width="4.88" height="37.56" fill="#0f4876" stroke="none" stroke-width="1"/>
<line x1="120.84" y1="229.2" x2="120.84" y2="229.88" stroke="#111" stroke-width="0.7"/>
<line x1="119.34" y1="229.2" x2="122.34" y2="229.2" stroke="#111" stroke-width="0.7"/>
<rect x="118.85" y="230.28" width="3.98" height="113.02" fill="#fff" stroke="#111" stroke-width="0.9" rx="1"/>
<line x1="125.72" y1="264.59" x2="125.72" y2="267.31" stroke="#e29292" stroke-width="0.7"/>
<line x1="124.22" y1="264.59" x2="127.22" y2="264.59" stroke="#e29292" stroke-width="0.7"/>
<rect x="123.28" y="267.31" width="4.88" height="75.99" fill="#e29292" stroke="none" stroke-width="1" rx="0.8"/>
<rect x="123.28" y="268.31" width="4.88" height="74.99" fill="#e29292" stroke="none" stroke-width="1"/>
<line x1="130.6" y1="268.22" x2="130.6" y2="268.9" stroke="#808080" stroke-width="0.7"/>
<line x1="129.1" y1="268.22" x2="132.1" y2="268.22" stroke="#808080" stroke-width="0.7"/>
<rect x="128.16" y="268.90" width="4.88" height="74.40" fill="#808080" stroke="none" stroke-width="1" rx="0.8"/>
<rect x="128.16" y="269.90" width="4.88" height="73.40" fill="#808080" stroke="none" stroke-width="1"/>
<line x1="135.48" y1="266.63" x2="135.48" y2="268.9" stroke="#760000" stroke-width="0.7"/>
<line x1="133.98" y1="266.63" x2="136.98" y2="266.63" stroke="#760000" stroke-width="0.7"/>
<rect x="133.04" y="268.90" width="4.88" height="74.40" fill="#760000" stroke="none" stroke-width="1" rx="0.8"/>
<rect x="133.04" y="269.90" width="4.88" height="73.40" fill="#760000" stroke="none" stroke-width="1"/>
<line x1="140.36" y1="274.57" x2="140.36" y2="275.7" stroke="#c8d2f8" stroke-width="0.7"/>
<line x1="138.86" y1="274.57" x2="141.86" y2="274.57" stroke="#c8d2f8" stroke-width="0.7"/>
<rect x="137.92" y="275.70" width="4.88" height="67.60" fill="#c8d2f8" stroke="none" stroke-width="1" rx="0.8"/>
<rect x="137.92" y="276.70" width="4.88" height="66.60" fill="#c8d2f8" stroke="none" stroke-width="1"/>
<line x1="145.24" y1="246.22" x2="145.24" y2="249.16" stroke="#109413" stroke-width="0.7"/>
<line x1="143.74" y1="246.22" x2="146.74" y2="246.22" stroke="#109413" stroke-width="0.7"/>
<rect x="142.80" y="249.16" width="4.88" height="94.14" fill="#109413" stroke="none" stroke-width="1" rx="0.8"/>
<rect x="142.80" y="250.16" width="4.88" height="93.14" fill="#109413" stroke="none" stroke-width="1"/>
<line x1="150.12" y1="264.59" x2="150.12" y2="267.31" stroke="#0a47ee" stroke-width="0.7"/>
<line x1="148.62" y1="264.59" x2="151.62" y2="264.59" stroke="#0a47ee" stroke-width="0.7"/>
<rect x="147.68" y="267.31" width="4.88" height="75.99" fill="#0a47ee" stroke="none" stroke-width="1" rx="0.8"/>
<rect x="147.68" y="268.31" width="4.88" height="74.99" fill="#0a47ee" stroke="none" stroke-width="1"/>
<line x1="155.0" y1="249.62" x2="155.0" y2="252.57" stroke="#0f4876" stroke-width="0.7"/>
<line x1="153.5" y1="249.62" x2="156.5" y2="249.62" stroke="#0f4876" stroke-width="0.7"/>
<rect x="152.56" y="252.57" width="4.88" height="90.73" fill="#0f4876" stroke="none" stroke-width="1" rx="0.8"/>
<rect x="152.56" y="253.57" width="4.88" height="89.73" fill="#0f4876" stroke="none" stroke-width="1"/>
<line x1="165.04" y1="312.0" x2="165.04" y2="315.4" stroke="#111" stroke-width="0.7"/>
<line x1="163.54" y1="312.0" x2="166.54" y2="312.0" stroke="#111" stroke-width="0.7"/>
<rect x="163.05" y="315.80" width="3.98" height="27.50" fill="#fff" stroke="#111" stroke-width="0.9" rx="1"/>
<line x1="169.92" y1="295.67" x2="169.92" y2="297.93" stroke="#e29292" stroke-width="0.7"/>
<line x1="168.42" y1="295.67" x2="171.42" y2="295.67" stroke="#e29292" stroke-width="0.7"/>
<rect x="167.48" y="297.93" width="4.88" height="45.37" fill="#e29292" stroke="none" stroke-width="1" rx="0.8"/>
<rect x="167.48" y="298.93" width="4.88" height="44.37" fill="#e29292" stroke="none" stroke-width="1"/>
<line x1="174.8" y1="307.23" x2="174.8" y2="309.96" stroke="#808080" stroke-width="0.7"/>
<line x1="173.3" y1="307.23" x2="176.3" y2="307.23" stroke="#808080" stroke-width="0.7"/>
<rect x="172.36" y="309.96" width="4.88" height="33.34" fill="#808080" stroke="none" stroke-width="1" rx="0.8"/>
<rect x="172.36" y="310.96" width="4.88" height="32.34" fill="#808080" stroke="none" stroke-width="1"/>
<line x1="179.68" y1="286.14" x2="179.68" y2="288.41" stroke="#760000" stroke-width="0.7"/>
<line x1="178.18" y1="286.14" x2="181.18" y2="286.14" stroke="#760000" stroke-width="0.7"/>
<rect x="177.24" y="288.41" width="4.88" height="54.89" fill="#760000" stroke="none" stroke-width="1" rx="0.8"/>
<rect x="177.24" y="289.41" width="4.88" height="53.89" fill="#760000" stroke="none" stroke-width="1"/>
<line x1="184.56" y1="289.99" x2="184.56" y2="292.72" stroke="#c8d2f8" stroke-width="0.7"/>
<line x1="183.06" y1="289.99" x2="186.06" y2="289.99" stroke="#c8d2f8" stroke-width="0.7"/>
<rect x="182.12" y="292.72" width="4.88" height="50.58" fill="#c8d2f8" stroke="none" stroke-width="1" rx="0.8"/>
<rect x="182.12" y="293.72" width="4.88" height="49.58" fill="#c8d2f8" stroke="none" stroke-width="1"/>
<line x1="189.44" y1="317.67" x2="189.44" y2="319.94" stroke="#109413" stroke-width="0.7"/>
<line x1="187.94" y1="317.67" x2="190.94" y2="317.67" stroke="#109413" stroke-width="0.7"/>
<rect x="187.00" y="319.94" width="4.88" height="23.36" fill="#109413" stroke="none" stroke-width="1" rx="0.8"/>
<rect x="187.00" y="320.94" width="4.88" height="22.36" fill="#109413" stroke="none" stroke-width="1"/>
<line x1="194.32" y1="299.52" x2="194.32" y2="301.79" stroke="#0a47ee" stroke-width="0.7"/>
<line x1="192.82" y1="299.52" x2="195.82" y2="299.52" stroke="#0a47ee" stroke-width="0.7"/>
<rect x="191.88" y="301.79" width="4.88" height="41.51" fill="#0a47ee" stroke="none" stroke-width="1" rx="0.8"/>
<rect x="191.88" y="302.79" width="4.88" height="40.51" fill="#0a47ee" stroke="none" stroke-width="1"/>
<line x1="199.2" y1="309.05" x2="199.2" y2="310.86" stroke="#0f4876" stroke-width="0.7"/>
<line x1="197.7" y1="309.05" x2="200.7" y2="309.05" stroke="#0f4876" stroke-width="0.7"/>
<rect x="196.76" y="310.86" width="4.88" height="32.44" fill="#0f4876" stroke="none" stroke-width="1" rx="0.8"/>
<rect x="196.76" y="311.86" width="4.88" height="31.44" fill="#0f4876" stroke="none" stroke-width="1"/>
<line x1="219.0" y1="328.78" x2="219.0" y2="329.69" stroke="#808080" stroke-width="0.7"/>
<line x1="217.5" y1="328.78" x2="220.5" y2="328.78" stroke="#808080" stroke-width="0.7"/>
<rect x="216.56" y="329.69" width="4.88" height="13.61" fill="#808080" stroke="none" stroke-width="1" rx="0.8"/>
<rect x="216.56" y="330.69" width="4.88" height="12.61" fill="#808080" stroke="none" stroke-width="1"/>
<line x1="228.76" y1="308.14" x2="228.76" y2="309.27" stroke="#c8d2f8" stroke-width="0.7"/>
<line x1="227.26" y1="308.14" x2="230.26" y2="308.14" stroke="#c8d2f8" stroke-width="0.7"/>
<rect x="226.32" y="309.27" width="4.88" height="34.03" fill="#c8d2f8" stroke="none" stroke-width="1" rx="0.8"/>
<rect x="226.32" y="310.27" width="4.88" height="33.03" fill="#c8d2f8" stroke="none" stroke-width="1"/>
<line x1="233.64" y1="310.64" x2="233.64" y2="312.22" stroke="#109413" stroke-width="0.7"/>
<line x1="232.14" y1="310.64" x2="235.14" y2="310.64" stroke="#109413" stroke-width="0.7"/>
<rect x="231.20" y="312.22" width="4.88" height="31.08" fill="#109413" stroke="none" stroke-width="1" rx="0.8"/>
<rect x="231.20" y="313.22" width="4.88" height="30.08" fill="#109413" stroke="none" stroke-width="1"/>
<line x1="238.52" y1="307.46" x2="238.52" y2="308.59" stroke="#0a47ee" stroke-width="0.7"/>
<line x1="237.02" y1="307.46" x2="240.02" y2="307.46" stroke="#0a47ee" stroke-width="0.7"/>
<rect x="236.08" y="308.59" width="4.88" height="34.71" fill="#0a47ee" stroke="none" stroke-width="1" rx="0.8"/>
<rect x="236.08" y="309.59" width="4.88" height="33.71" fill="#0a47ee" stroke="none" stroke-width="1"/>
<line x1="243.4" y1="321.07" x2="243.4" y2="323.34" stroke="#0f4876" stroke-width="0.7"/>
<line x1="241.9" y1="321.07" x2="244.9" y2="321.07" stroke="#0f4876" stroke-width="0.7"/>
<rect x="240.96" y="323.34" width="4.88" height="19.96" fill="#0f4876" stroke="none" stroke-width="1" rx="0.8"/>
<rect x="240.96" y="324.34" width="4.88" height="18.96" fill="#0f4876" stroke="none" stroke-width="1"/>
<line x1="272.96" y1="315.63" x2="272.96" y2="317.89" stroke="#c8d2f8" stroke-width="0.7"/>
<line x1="271.46" y1="315.63" x2="274.46" y2="315.63" stroke="#c8d2f8" stroke-width="0.7"/>
<rect x="270.52" y="317.89" width="4.88" height="25.41" fill="#c8d2f8" stroke="none" stroke-width="1" rx="0.8"/>
<rect x="270.52" y="318.89" width="4.88" height="24.41" fill="#c8d2f8" stroke="none" stroke-width="1"/>
<line x1="277.84" y1="317.67" x2="277.84" y2="319.48" stroke="#109413" stroke-width="0.7"/>
<line x1="276.34" y1="317.67" x2="279.34" y2="317.67" stroke="#109413" stroke-width="0.7"/>
<rect x="275.40" y="319.48" width="4.88" height="23.82" fill="#109413" stroke="none" stroke-width="1" rx="0.8"/>
<rect x="275.40" y="320.48" width="4.88" height="22.82" fill="#109413" stroke="none" stroke-width="1"/>
<line x1="282.72" y1="321.07" x2="282.72" y2="322.88" stroke="#0a47ee" stroke-width="0.7"/>
<line x1="281.22" y1="321.07" x2="284.22" y2="321.07" stroke="#0a47ee" stroke-width="0.7"/>
<rect x="280.28" y="322.88" width="4.88" height="20.42" fill="#0a47ee" stroke="none" stroke-width="1" rx="0.8"/>
<rect x="280.28" y="323.88" width="4.88" height="19.42" fill="#0a47ee" stroke="none" stroke-width="1"/>
<line x1="287.6" y1="314.95" x2="287.6" y2="316.76" stroke="#0f4876" stroke-width="0.7"/>
<line x1="286.1" y1="314.95" x2="289.1" y2="314.95" stroke="#0f4876" stroke-width="0.7"/>
<rect x="285.16" y="316.76" width="4.88" height="26.54" fill="#0f4876" stroke="none" stroke-width="1" rx="0.8"/>
<rect x="285.16" y="317.76" width="4.88" height="25.54" fill="#0f4876" stroke="none" stroke-width="1"/>
<line x1="326.92" y1="327.88" x2="326.92" y2="328.56" stroke="#0a47ee" stroke-width="0.7"/>
<line x1="325.42" y1="327.88" x2="328.42" y2="327.88" stroke="#0a47ee" stroke-width="0.7"/>
<rect x="324.48" y="328.56" width="4.88" height="14.74" fill="#0a47ee" stroke="none" stroke-width="1" rx="0.8"/>
<rect x="324.48" y="329.56" width="4.88" height="13.74" fill="#0a47ee" stroke="none" stroke-width="1"/>
<line x1="331.8" y1="335.59" x2="331.8" y2="336.5" stroke="#0f4876" stroke-width="0.7"/>
<line x1="330.3" y1="335.59" x2="333.3" y2="335.59" stroke="#0f4876" stroke-width="0.7"/>
<rect x="329.36" y="336.50" width="4.88" height="6.81" fill="#0f4876" stroke="none" stroke-width="1" rx="0.8"/>
<rect x="329.36" y="337.50" width="4.88" height="5.81" fill="#0f4876" stroke="none" stroke-width="1"/>
<line x1="371.12" y1="335.13" x2="371.12" y2="335.81" stroke="#0a47ee" stroke-width="0.7"/>
<line x1="369.62" y1="335.13" x2="372.62" y2="335.13" stroke="#0a47ee" stroke-width="0.7"/>
<rect x="368.68" y="335.81" width="4.88" height="7.49" fill="#0a47ee" stroke="none" stroke-width="1" rx="0.8"/>
<rect x="368.68" y="336.81" width="4.88" height="6.49" fill="#0a47ee" stroke="none" stroke-width="1"/>
<line x1="376.0" y1="335.81" x2="376.0" y2="336.5" stroke="#0f4876" stroke-width="0.7"/>
<line x1="374.5" y1="335.81" x2="377.5" y2="335.81" stroke="#0f4876" stroke-width="0.7"/>
<rect x="373.56" y="336.50" width="4.88" height="6.81" fill="#0f4876" stroke="none" stroke-width="1" rx="0.8"/>
<rect x="373.56" y="337.50" width="4.88" height="5.81" fill="#0f4876" stroke="none" stroke-width="1"/>
<line x1="25.299999999999997" y1="343.3" x2="27.9" y2="343.3" stroke="#0a0a0a" stroke-width="1.1"/>
<text x="24.3" y="345.9" font-size="7.4" font-weight="bold" fill="#000" text-anchor="end">0</text>
<line x1="25.299999999999997" y1="320.62" x2="27.9" y2="320.62" stroke="#0a0a0a" stroke-width="1.1"/>
<text x="24.3" y="323.22" font-size="7.4" font-weight="bold" fill="#000" text-anchor="end">10</text>
<line x1="25.299999999999997" y1="297.93" x2="27.9" y2="297.93" stroke="#0a0a0a" stroke-width="1.1"/>
<text x="24.3" y="300.53" font-size="7.4" font-weight="bold" fill="#000" text-anchor="end">20</text>
<line x1="25.299999999999997" y1="275.25" x2="27.9" y2="275.25" stroke="#0a0a0a" stroke-width="1.1"/>
<text x="24.3" y="277.85" font-size="7.4" font-weight="bold" fill="#000" text-anchor="end">30</text>
<line x1="25.299999999999997" y1="252.57" x2="27.9" y2="252.57" stroke="#0a0a0a" stroke-width="1.1"/>
<text x="24.3" y="255.17" font-size="7.4" font-weight="bold" fill="#000" text-anchor="end">40</text>
<line x1="25.299999999999997" y1="229.88" x2="27.9" y2="229.88" stroke="#0a0a0a" stroke-width="1.1"/>
<text x="24.3" y="232.48" font-size="7.4" font-weight="bold" fill="#000" text-anchor="end">50</text>
<line x1="25.299999999999997" y1="207.2" x2="27.9" y2="207.2" stroke="#0a0a0a" stroke-width="1.1"/>
<text x="24.3" y="209.8" font-size="7.4" font-weight="bold" fill="#000" text-anchor="end">60</text>
<line x1="71.6" y1="343.3" x2="71.6" y2="345.5" stroke="#0a0a0a" stroke-width="1.1"/>
<line x1="115.8" y1="343.3" x2="115.8" y2="345.5" stroke="#0a0a0a" stroke-width="1.1"/>
<line x1="160.0" y1="343.3" x2="160.0" y2="345.5" stroke="#0a0a0a" stroke-width="1.1"/>
<line x1="204.2" y1="343.3" x2="204.2" y2="345.5" stroke="#0a0a0a" stroke-width="1.1"/>
<line x1="248.4" y1="343.3" x2="248.4" y2="345.5" stroke="#0a0a0a" stroke-width="1.1"/>
<line x1="292.6" y1="343.3" x2="292.6" y2="345.5" stroke="#0a0a0a" stroke-width="1.1"/>
<line x1="336.8" y1="343.3" x2="336.8" y2="345.5" stroke="#0a0a0a" stroke-width="1.1"/>
<text x="49.6" y="352.4" font-size="8.0" font-weight="bold" fill="#000" text-anchor="middle">3</text>
<text x="93.8" y="352.4" font-size="8.0" font-weight="bold" fill="#000" text-anchor="middle">4</text>
<text x="138.0" y="352.4" font-size="8.0" font-weight="bold" fill="#000" text-anchor="middle">5</text>
<text x="182.2" y="352.4" font-size="8.0" font-weight="bold" fill="#000" text-anchor="middle">6</text>
<text x="226.4" y="352.4" font-size="8.0" font-weight="bold" fill="#000" text-anchor="middle">7</text>
<text x="270.6" y="352.4" font-size="8.0" font-weight="bold" fill="#000" text-anchor="middle">8</text>
<text x="314.8" y="352.4" font-size="8.0" font-weight="bold" fill="#000" text-anchor="middle">9</text>
<text x="359.0" y="352.4" font-size="8.0" font-weight="bold" fill="#000" text-anchor="middle">10</text>
<text x="204.2" y="365.6" font-size="8.5" font-weight="bold" fill="#000" text-anchor="middle" textLength="57" lengthAdjust="spacingAndGlyphs">Day of culture</text>
<text x="7.9" y="273.3" font-size="7.6" font-weight="bold" fill="#000" text-anchor="middle" textLength="111.5" lengthAdjust="spacingAndGlyphs" transform="rotate(-90 7.9 273.3)">% colonies including &gt;30 cells</text>
<rect x="384.80" y="207.40" width="129.20" height="68.50" fill="#fff" stroke="#333" stroke-width="0.9"/>
<line x1="384.8" y1="214.3" x2="514.0" y2="214.3" stroke="#222" stroke-width="0.9"/>
<line x1="384.8" y1="222.0" x2="514.0" y2="222.0" stroke="#555" stroke-width="0.7"/>
<line x1="384.8" y1="229.7" x2="514.0" y2="229.7" stroke="#555" stroke-width="0.7"/>
<line x1="384.8" y1="237.4" x2="514.0" y2="237.4" stroke="#555" stroke-width="0.7"/>
<line x1="384.8" y1="245.1" x2="514.0" y2="245.1" stroke="#555" stroke-width="0.7"/>
<line x1="384.8" y1="252.8" x2="514.0" y2="252.8" stroke="#555" stroke-width="0.7"/>
<line x1="384.8" y1="260.5" x2="514.0" y2="260.5" stroke="#555" stroke-width="0.7"/>
<line x1="384.8" y1="268.2" x2="514.0" y2="268.2" stroke="#555" stroke-width="0.7"/>
<line x1="396.7" y1="207.4" x2="396.7" y2="275.9" stroke="#666" stroke-width="0.6"/>
<line x1="396.7" y1="207.4" x2="396.7" y2="214.3" stroke="#222" stroke-width="0.9"/>
<line x1="438.4" y1="207.4" x2="438.4" y2="275.9" stroke="#666" stroke-width="0.6"/>
<line x1="438.4" y1="207.4" x2="438.4" y2="214.3" stroke="#222" stroke-width="0.9"/>
<line x1="481.0" y1="207.4" x2="481.0" y2="275.9" stroke="#666" stroke-width="0.6"/>
<line x1="481.0" y1="207.4" x2="481.0" y2="214.3" stroke="#222" stroke-width="0.9"/>
<text x="417.55" y="212.8" font-size="5.6" font-weight="bold" fill="#000" text-anchor="middle">shRNA</text>
<text x="459.7" y="212.8" font-size="5.4" font-weight="bold" fill="#000" text-anchor="middle" textLength="40.5" lengthAdjust="spacingAndGlyphs">Overexpression</text>
<text x="497.5" y="212.8" font-size="5.6" font-weight="bold" fill="#000" text-anchor="middle">Plate</text>
<rect x="388.00" y="215.85" width="4.60" height="4.60" fill="#fff" stroke="#111" stroke-width="0.9"/>
<text x="417.55" y="220.0" font-size="5.4" font-weight="bold" fill="#000" text-anchor="middle">scramble</text>
<text x="459.7" y="220.0" font-size="5.4" font-weight="bold" fill="#000" text-anchor="middle">control-mKO</text>
<text x="497.5" y="220.0" font-size="5.4" font-weight="bold" fill="#000" text-anchor="middle">control-Fc</text>
<rect x="387.60" y="223.15" width="5.40" height="5.40" fill="#e29292" stroke="none" stroke-width="1"/>
<text x="417.55" y="227.7" font-size="5.4" font-weight="bold" fill="#000" text-anchor="middle">shN-cad-1</text>
<text x="459.7" y="227.7" font-size="5.4" font-weight="bold" fill="#000" text-anchor="middle">control-mKO</text>
<text x="497.5" y="227.7" font-size="5.4" font-weight="bold" fill="#000" text-anchor="middle">control-Fc</text>
<rect x="387.60" y="230.85" width="5.40" height="5.40" fill="#808080" stroke="none" stroke-width="1"/>
<text x="417.55" y="235.4" font-size="5.4" font-weight="bold" fill="#000" text-anchor="middle">scramble</text>
<text x="459.7" y="235.4" font-size="5.4" font-weight="bold" fill="#000" text-anchor="middle">control-mKO</text>
<text x="497.5" y="235.4" font-size="5.4" font-weight="bold" fill="#000" text-anchor="middle">N-cad-Fc</text>
<rect x="387.60" y="238.55" width="5.40" height="5.40" fill="#760000" stroke="none" stroke-width="1"/>
<text x="417.55" y="243.1" font-size="5.4" font-weight="bold" fill="#000" text-anchor="middle">shN-cad-1</text>
<text x="459.7" y="243.1" font-size="5.4" font-weight="bold" fill="#000" text-anchor="middle">control-mKO</text>
<text x="497.5" y="243.1" font-size="5.4" font-weight="bold" fill="#000" text-anchor="middle">N-cad-Fc</text>
<rect x="387.60" y="246.25" width="5.40" height="5.40" fill="#c8d2f8" stroke="none" stroke-width="1"/>
<text x="417.55" y="250.8" font-size="5.4" font-weight="bold" fill="#000" text-anchor="middle">scramble</text>
<text x="459.7" y="250.8" font-size="5.4" font-weight="bold" fill="#000" text-anchor="middle">sil.mut.-N-cad</text>
<text x="497.5" y="250.8" font-size="5.4" font-weight="bold" fill="#000" text-anchor="middle">control-Fc</text>
<rect x="387.60" y="253.95" width="5.40" height="5.40" fill="#109413" stroke="none" stroke-width="1"/>
<text x="417.55" y="258.5" font-size="5.4" font-weight="bold" fill="#000" text-anchor="middle">shN-cad-1</text>
<text x="459.7" y="258.5" font-size="5.4" font-weight="bold" fill="#000" text-anchor="middle">sil.mut.-N-cad</text>
<text x="497.5" y="258.5" font-size="5.4" font-weight="bold" fill="#000" text-anchor="middle">control-Fc</text>
<rect x="387.60" y="261.65" width="5.40" height="5.40" fill="#0a47ee" stroke="none" stroke-width="1"/>
<text x="417.55" y="266.2" font-size="5.4" font-weight="bold" fill="#000" text-anchor="middle">scramble</text>
<text x="459.7" y="266.2" font-size="5.4" font-weight="bold" fill="#000" text-anchor="middle">sil.mut.-N-cad</text>
<text x="497.5" y="266.2" font-size="5.4" font-weight="bold" fill="#000" text-anchor="middle">N-cad-Fc</text>
<rect x="387.60" y="269.35" width="5.40" height="5.40" fill="#0f4876" stroke="none" stroke-width="1"/>
<text x="417.55" y="273.9" font-size="5.4" font-weight="bold" fill="#000" text-anchor="middle">shN-cad-1</text>
<text x="459.7" y="273.9" font-size="5.4" font-weight="bold" fill="#000" text-anchor="middle">sil.mut.-N-cad</text>
<text x="497.5" y="273.9" font-size="5.4" font-weight="bold" fill="#000" text-anchor="middle">N-cad-Fc</text>
<text x="0.6" y="388.4" font-size="10.8" font-weight="bold" fill="#000">D</text>
<rect x="23.40" y="398.20" width="99.00" height="99.00" fill="#fff" stroke="#000" stroke-width="1.4"/>
<clipPath id="cp23"><rect x="23.4" y="398.2" width="99.0" height="99.6"/></clipPath>
<path d="M47.31,497.54 C47.62,497.31 48.58,496.77 49.15,496.15 C49.73,495.54 50.12,495.19 50.77,493.85 C51.42,492.50 52.31,490.39 53.08,488.08 C53.85,485.77 54.62,482.31 55.38,480.00 C56.15,477.69 57.04,476.15 57.69,474.23 C58.35,472.31 58.85,471.54 59.31,468.46 C59.77,465.39 60.15,459.31 60.46,455.77 C60.77,452.23 60.85,449.12 61.15,447.23 C61.46,445.35 62.00,447.08 62.31,444.46 C62.62,441.85 62.73,438.23 63.00,431.54 C63.27,424.85 63.65,409.42 63.92,404.31 C64.19,399.19 64.35,400.15 64.62,400.85 C64.88,401.54 65.19,400.65 65.54,408.46 C65.89,416.27 66.35,436.15 66.69,447.69 C67.04,459.23 67.31,471.39 67.62,477.69 C67.92,484.00 68.08,483.96 68.54,485.54 C69.00,487.12 69.69,486.46 70.39,487.15 C71.08,487.85 72.00,489.69 72.69,489.69 C73.39,489.69 73.96,487.73 74.54,487.15 C75.12,486.58 75.62,486.08 76.15,486.23 C76.69,486.39 77.19,487.58 77.77,488.08 C78.35,488.58 78.92,488.96 79.62,489.23 C80.31,489.50 81.23,489.81 81.92,489.69 C82.62,489.58 83.19,488.62 83.77,488.54 C84.35,488.46 84.73,488.92 85.39,489.23 C86.04,489.54 87.00,490.08 87.69,490.39 C88.39,490.69 88.96,491.50 89.54,491.08 C90.12,490.65 90.69,488.62 91.15,487.85 C91.62,487.08 91.73,486.54 92.31,486.46 C92.89,486.39 93.96,486.85 94.62,487.39 C95.27,487.92 95.65,488.62 96.23,489.69 C96.81,490.77 97.39,492.65 98.08,493.85 C98.77,495.04 99.69,496.23 100.39,496.85 C101.08,497.46 101.46,497.42 102.23,497.54 C103.00,497.65 104.54,497.54 105.00,497.54" fill="none" stroke="#000" stroke-width="1.7" stroke-linejoin="round" clip-path="url(#cp23)"/>
<line x1="23.4" y1="414.6" x2="122.4" y2="414.6" stroke="#000" stroke-width="1.2"/>
<line x1="23.7" y1="411.0" x2="23.7" y2="418.20000000000005" stroke="#000" stroke-width="1.5"/>
<line x1="68.6" y1="411.0" x2="68.6" y2="418.20000000000005" stroke="#000" stroke-width="1.5"/>
<line x1="122.10000000000001" y1="411.0" x2="122.10000000000001" y2="418.20000000000005" stroke="#000" stroke-width="1.5"/>
<text x="46.5" y="413.0" font-size="6.8" font-weight="bold" fill="#000" text-anchor="middle">73.2</text>
<text x="95.6" y="413.0" font-size="6.8" font-weight="bold" fill="#000" text-anchor="middle">26.8</text>
<text x="72.7" y="395.1" font-size="8.1" font-weight="bold" fill="#000" text-anchor="middle" textLength="38.6" lengthAdjust="spacingAndGlyphs">Scramble</text>
<line x1="20.799999999999997" y1="400.6" x2="23.4" y2="400.6" stroke="#0a0a0a" stroke-width="1.1"/>
<text x="18.799999999999997" y="402.6" font-size="5.5" font-weight="bold" fill="#000" text-anchor="end">30</text>
<line x1="20.799999999999997" y1="432.9" x2="23.4" y2="432.9" stroke="#0a0a0a" stroke-width="1.1"/>
<text x="18.799999999999997" y="434.9" font-size="5.5" font-weight="bold" fill="#000" text-anchor="end">20</text>
<line x1="20.799999999999997" y1="465.1" x2="23.4" y2="465.1" stroke="#0a0a0a" stroke-width="1.1"/>
<text x="18.799999999999997" y="467.1" font-size="5.5" font-weight="bold" fill="#000" text-anchor="end">10</text>
<line x1="20.799999999999997" y1="497.2" x2="23.4" y2="497.2" stroke="#0a0a0a" stroke-width="1.1"/>
<text x="18.799999999999997" y="499.2" font-size="5.5" font-weight="bold" fill="#000" text-anchor="end">0</text>
<line x1="23.4" y1="497.2" x2="23.4" y2="500.5" stroke="#000" stroke-width="1.3"/>
<text x="23.4" y="507.0" font-size="5.6" font-weight="bold" fill="#000" text-anchor="middle">0</text>
<line x1="42.4" y1="497.2" x2="42.4" y2="500.5" stroke="#000" stroke-width="1.3"/>
<text x="42.4" y="507.0" font-size="5.6" font-weight="bold" fill="#000" text-anchor="middle">50K</text>
<line x1="61.4" y1="497.2" x2="61.4" y2="500.5" stroke="#000" stroke-width="1.3"/>
<text x="61.4" y="507.0" font-size="5.6" font-weight="bold" fill="#000" text-anchor="middle">100K</text>
<line x1="80.4" y1="497.2" x2="80.4" y2="500.5" stroke="#000" stroke-width="1.3"/>
<text x="80.4" y="507.0" font-size="5.6" font-weight="bold" fill="#000" text-anchor="middle">150K</text>
<line x1="99.4" y1="497.2" x2="99.4" y2="500.5" stroke="#000" stroke-width="1.3"/>
<text x="99.4" y="507.0" font-size="5.6" font-weight="bold" fill="#000" text-anchor="middle">200K</text>
<line x1="118.4" y1="497.2" x2="118.4" y2="500.5" stroke="#000" stroke-width="1.3"/>
<text x="118.4" y="507.0" font-size="5.6" font-weight="bold" fill="#000" text-anchor="middle">250K</text>
<line x1="27.2" y1="497.2" x2="27.2" y2="499.59999999999997" stroke="#000" stroke-width="1.2"/>
<line x1="31.0" y1="497.2" x2="31.0" y2="499.59999999999997" stroke="#000" stroke-width="1.2"/>
<line x1="34.8" y1="497.2" x2="34.8" y2="499.59999999999997" stroke="#000" stroke-width="1.2"/>
<line x1="38.6" y1="497.2" x2="38.6" y2="499.59999999999997" stroke="#000" stroke-width="1.2"/>
<line x1="46.2" y1="497.2" x2="46.2" y2="499.59999999999997" stroke="#000" stroke-width="1.2"/>
<line x1="50.0" y1="497.2" x2="50.0" y2="499.59999999999997" stroke="#000" stroke-width="1.2"/>
<line x1="53.8" y1="497.2" x2="53.8" y2="499.59999999999997" stroke="#000" stroke-width="1.2"/>
<line x1="57.6" y1="497.2" x2="57.6" y2="499.59999999999997" stroke="#000" stroke-width="1.2"/>
<line x1="65.2" y1="497.2" x2="65.2" y2="499.59999999999997" stroke="#000" stroke-width="1.2"/>
<line x1="69.0" y1="497.2" x2="69.0" y2="499.59999999999997" stroke="#000" stroke-width="1.2"/>
<line x1="72.8" y1="497.2" x2="72.8" y2="499.59999999999997" stroke="#000" stroke-width="1.2"/>
<line x1="76.6" y1="497.2" x2="76.6" y2="499.59999999999997" stroke="#000" stroke-width="1.2"/>
<line x1="84.2" y1="497.2" x2="84.2" y2="499.59999999999997" stroke="#000" stroke-width="1.2"/>
<line x1="88.0" y1="497.2" x2="88.0" y2="499.59999999999997" stroke="#000" stroke-width="1.2"/>
<line x1="91.8" y1="497.2" x2="91.8" y2="499.59999999999997" stroke="#000" stroke-width="1.2"/>
<line x1="95.6" y1="497.2" x2="95.6" y2="499.59999999999997" stroke="#000" stroke-width="1.2"/>
<line x1="103.2" y1="497.2" x2="103.2" y2="499.59999999999997" stroke="#000" stroke-width="1.2"/>
<line x1="107.0" y1="497.2" x2="107.0" y2="499.59999999999997" stroke="#000" stroke-width="1.2"/>
<line x1="110.8" y1="497.2" x2="110.8" y2="499.59999999999997" stroke="#000" stroke-width="1.2"/>
<line x1="114.6" y1="497.2" x2="114.6" y2="499.59999999999997" stroke="#000" stroke-width="1.2"/>
<rect x="141.30" y="398.20" width="99.40" height="99.00" fill="#fff" stroke="#000" stroke-width="1.4"/>
<clipPath id="cp141"><rect x="141.3" y="398.2" width="99.39999999999998" height="99.6"/></clipPath>
<path d="M170.00,497.00 C170.42,496.96 171.79,497.92 172.50,496.75 C173.21,495.58 173.71,494.46 174.25,490.00 C174.79,485.54 175.29,475.42 175.75,470.00 C176.21,464.58 176.62,460.42 177.00,457.50 C177.38,454.58 177.62,452.50 178.00,452.50 C178.38,452.50 178.83,457.92 179.25,457.50 C179.67,457.08 180.08,451.75 180.50,450.00 C180.92,448.25 181.33,445.33 181.75,447.00 C182.17,448.67 182.62,456.17 183.00,460.00 C183.38,463.83 183.67,470.42 184.00,470.00 C184.33,469.58 184.62,462.29 185.00,457.50 C185.38,452.71 185.92,444.17 186.25,441.25 C186.58,438.33 186.71,438.96 187.00,440.00 C187.29,441.04 187.58,443.75 188.00,447.50 C188.42,451.25 189.04,459.08 189.50,462.50 C189.96,465.92 190.33,469.25 190.75,468.00 C191.17,466.75 191.58,460.08 192.00,455.00 C192.42,449.92 192.83,442.42 193.25,437.50 C193.67,432.58 194.08,430.58 194.50,425.50 C194.92,420.42 195.42,410.38 195.75,407.00 C196.08,403.62 196.21,403.67 196.50,405.25 C196.79,406.83 197.12,409.04 197.50,416.50 C197.88,423.96 198.33,441.50 198.75,450.00 C199.17,458.50 199.58,463.75 200.00,467.50 C200.42,471.25 200.83,469.58 201.25,472.50 C201.67,475.42 202.04,481.67 202.50,485.00 C202.96,488.33 203.58,492.08 204.00,492.50 C204.42,492.92 204.62,490.83 205.00,487.50 C205.38,484.17 205.83,476.88 206.25,472.50 C206.67,468.12 207.17,463.42 207.50,461.25 C207.83,459.08 207.92,458.88 208.25,459.50 C208.58,460.12 209.08,461.58 209.50,465.00 C209.92,468.42 210.25,474.92 210.75,480.00 C211.25,485.08 212.00,492.79 212.50,495.50 C213.00,498.21 213.33,497.58 213.75,496.25 C214.17,494.92 214.58,491.88 215.00,487.50 C215.42,483.12 215.92,474.17 216.25,470.00 C216.58,465.83 216.75,463.54 217.00,462.50 C217.25,461.46 217.46,460.83 217.75,463.75 C218.04,466.67 218.38,475.00 218.75,480.00 C219.12,485.00 219.54,490.96 220.00,493.75 C220.46,496.54 220.88,496.21 221.50,496.75 C222.12,497.29 223.38,496.96 223.75,497.00" fill="none" stroke="#000" stroke-width="1.7" stroke-linejoin="round" clip-path="url(#cp141)"/>
<line x1="141.3" y1="415" x2="240.7" y2="415" stroke="#000" stroke-width="1.2"/>
<line x1="141.60000000000002" y1="411.4" x2="141.60000000000002" y2="418.6" stroke="#000" stroke-width="1.5"/>
<line x1="186.8" y1="411.4" x2="186.8" y2="418.6" stroke="#000" stroke-width="1.5"/>
<line x1="240.39999999999998" y1="411.4" x2="240.39999999999998" y2="418.6" stroke="#000" stroke-width="1.5"/>
<text x="164.3" y="413.4" font-size="6.8" font-weight="bold" fill="#000" text-anchor="middle">32.1</text>
<text x="213.3" y="413.4" font-size="6.8" font-weight="bold" fill="#000" text-anchor="middle">67.9</text>
<text x="191.3" y="395.1" font-size="8.1" font-weight="bold" fill="#000" text-anchor="middle" textLength="41.0" lengthAdjust="spacingAndGlyphs">shN-cad-1</text>
<line x1="138.70000000000002" y1="415" x2="141.3" y2="415" stroke="#0a0a0a" stroke-width="1.1"/>
<text x="136.70000000000002" y="417.0" font-size="5.5" font-weight="bold" fill="#000" text-anchor="end">0.6</text>
<line x1="138.70000000000002" y1="442.4" x2="141.3" y2="442.4" stroke="#0a0a0a" stroke-width="1.1"/>
<text x="136.70000000000002" y="444.4" font-size="5.5" font-weight="bold" fill="#000" text-anchor="end">0.4</text>
<line x1="138.70000000000002" y1="469.8" x2="141.3" y2="469.8" stroke="#0a0a0a" stroke-width="1.1"/>
<text x="136.70000000000002" y="471.8" font-size="5.5" font-weight="bold" fill="#000" text-anchor="end">0.2</text>
<line x1="138.70000000000002" y1="497.2" x2="141.3" y2="497.2" stroke="#0a0a0a" stroke-width="1.1"/>
<text x="136.70000000000002" y="499.2" font-size="5.5" font-weight="bold" fill="#000" text-anchor="end">0</text>
<line x1="139.7" y1="490.35" x2="141.3" y2="490.35" stroke="#111" stroke-width="0.9"/>
<line x1="139.7" y1="483.5" x2="141.3" y2="483.5" stroke="#111" stroke-width="0.9"/>
<line x1="139.7" y1="476.65" x2="141.3" y2="476.65" stroke="#111" stroke-width="0.9"/>
<line x1="139.7" y1="462.95" x2="141.3" y2="462.95" stroke="#111" stroke-width="0.9"/>
<line x1="139.7" y1="456.1" x2="141.3" y2="456.1" stroke="#111" stroke-width="0.9"/>
<line x1="139.7" y1="449.25" x2="141.3" y2="449.25" stroke="#111" stroke-width="0.9"/>
<line x1="139.7" y1="435.55" x2="141.3" y2="435.55" stroke="#111" stroke-width="0.9"/>
<line x1="139.7" y1="428.7" x2="141.3" y2="428.7" stroke="#111" stroke-width="0.9"/>
<line x1="139.7" y1="421.85" x2="141.3" y2="421.85" stroke="#111" stroke-width="0.9"/>
<line x1="139.7" y1="408.15" x2="141.3" y2="408.15" stroke="#111" stroke-width="0.9"/>
<line x1="139.7" y1="401.3" x2="141.3" y2="401.3" stroke="#111" stroke-width="0.9"/>
<line x1="141.3" y1="497.2" x2="141.3" y2="500.5" stroke="#000" stroke-width="1.3"/>
<text x="141.3" y="507.0" font-size="5.6" font-weight="bold" fill="#000" text-anchor="middle">0</text>
<line x1="160.3" y1="497.2" x2="160.3" y2="500.5" stroke="#000" stroke-width="1.3"/>
<text x="160.3" y="507.0" font-size="5.6" font-weight="bold" fill="#000" text-anchor="middle">50K</text>
<line x1="179.3" y1="497.2" x2="179.3" y2="500.5" stroke="#000" stroke-width="1.3"/>
<text x="179.3" y="507.0" font-size="5.6" font-weight="bold" fill="#000" text-anchor="middle">100K</text>
<line x1="198.3" y1="497.2" x2="198.3" y2="500.5" stroke="#000" stroke-width="1.3"/>
<text x="198.3" y="507.0" font-size="5.6" font-weight="bold" fill="#000" text-anchor="middle">150K</text>
<line x1="217.3" y1="497.2" x2="217.3" y2="500.5" stroke="#000" stroke-width="1.3"/>
<text x="217.3" y="507.0" font-size="5.6" font-weight="bold" fill="#000" text-anchor="middle">200K</text>
<line x1="236.3" y1="497.2" x2="236.3" y2="500.5" stroke="#000" stroke-width="1.3"/>
<text x="236.3" y="507.0" font-size="5.6" font-weight="bold" fill="#000" text-anchor="middle">250K</text>
<line x1="145.1" y1="497.2" x2="145.1" y2="499.59999999999997" stroke="#000" stroke-width="1.2"/>
<line x1="148.9" y1="497.2" x2="148.9" y2="499.59999999999997" stroke="#000" stroke-width="1.2"/>
<line x1="152.7" y1="497.2" x2="152.7" y2="499.59999999999997" stroke="#000" stroke-width="1.2"/>
<line x1="156.5" y1="497.2" x2="156.5" y2="499.59999999999997" stroke="#000" stroke-width="1.2"/>
<line x1="164.1" y1="497.2" x2="164.1" y2="499.59999999999997" stroke="#000" stroke-width="1.2"/>
<line x1="167.9" y1="497.2" x2="167.9" y2="499.59999999999997" stroke="#000" stroke-width="1.2"/>
<line x1="171.7" y1="497.2" x2="171.7" y2="499.59999999999997" stroke="#000" stroke-width="1.2"/>
<line x1="175.5" y1="497.2" x2="175.5" y2="499.59999999999997" stroke="#000" stroke-width="1.2"/>
<line x1="183.1" y1="497.2" x2="183.1" y2="499.59999999999997" stroke="#000" stroke-width="1.2"/>
<line x1="186.9" y1="497.2" x2="186.9" y2="499.59999999999997" stroke="#000" stroke-width="1.2"/>
<line x1="190.7" y1="497.2" x2="190.7" y2="499.59999999999997" stroke="#000" stroke-width="1.2"/>
<line x1="194.5" y1="497.2" x2="194.5" y2="499.59999999999997" stroke="#000" stroke-width="1.2"/>
<line x1="202.1" y1="497.2" x2="202.1" y2="499.59999999999997" stroke="#000" stroke-width="1.2"/>
<line x1="205.9" y1="497.2" x2="205.9" y2="499.59999999999997" stroke="#000" stroke-width="1.2"/>
<line x1="209.7" y1="497.2" x2="209.7" y2="499.59999999999997" stroke="#000" stroke-width="1.2"/>
<line x1="213.5" y1="497.2" x2="213.5" y2="499.59999999999997" stroke="#000" stroke-width="1.2"/>
<line x1="221.1" y1="497.2" x2="221.1" y2="499.59999999999997" stroke="#000" stroke-width="1.2"/>
<line x1="224.9" y1="497.2" x2="224.9" y2="499.59999999999997" stroke="#000" stroke-width="1.2"/>
<line x1="228.7" y1="497.2" x2="228.7" y2="499.59999999999997" stroke="#000" stroke-width="1.2"/>
<line x1="232.5" y1="497.2" x2="232.5" y2="499.59999999999997" stroke="#000" stroke-width="1.2"/>
<line x1="240.1" y1="497.2" x2="240.1" y2="499.59999999999997" stroke="#000" stroke-width="1.2"/>
<rect x="259.60" y="398.20" width="99.20" height="99.00" fill="#fff" stroke="#000" stroke-width="1.4"/>
<clipPath id="cp259"><rect x="259.6" y="398.2" width="99.19999999999999" height="99.6"/></clipPath>
<path d="M283.75,497.00 C284.17,496.96 285.42,497.29 286.25,496.75 C287.08,496.21 287.92,495.71 288.75,493.75 C289.58,491.79 290.42,488.54 291.25,485.00 C292.08,481.46 293.04,476.46 293.75,472.50 C294.46,468.54 295.00,463.83 295.50,461.25 C296.00,458.67 296.33,456.79 296.75,457.00 C297.17,457.21 297.58,460.12 298.00,462.50 C298.42,464.88 298.92,470.21 299.25,471.25 C299.58,472.29 299.71,472.29 300.00,468.75 C300.29,465.21 300.67,458.54 301.00,450.00 C301.33,441.46 301.71,425.83 302.00,417.50 C302.29,409.17 302.50,403.33 302.75,400.00 C303.00,396.67 303.25,396.25 303.50,397.50 C303.75,398.75 304.00,401.67 304.25,407.50 C304.50,413.33 304.75,427.08 305.00,432.50 C305.25,437.92 305.50,439.79 305.75,440.00 C306.00,440.21 306.25,434.17 306.50,433.75 C306.75,433.33 306.96,434.38 307.25,437.50 C307.54,440.62 307.88,447.71 308.25,452.50 C308.62,457.29 309.08,463.42 309.50,466.25 C309.92,469.08 310.33,469.50 310.75,469.50 C311.17,469.50 311.58,467.62 312.00,466.25 C312.42,464.88 312.75,462.38 313.25,461.25 C313.75,460.12 314.46,460.12 315.00,459.50 C315.54,458.88 316.04,456.79 316.50,457.50 C316.96,458.21 317.38,463.33 317.75,463.75 C318.12,464.17 318.42,462.38 318.75,460.00 C319.08,457.62 319.46,451.50 319.75,449.50 C320.04,447.50 320.25,446.67 320.50,448.00 C320.75,449.33 320.96,453.42 321.25,457.50 C321.54,461.58 321.92,468.83 322.25,472.50 C322.58,476.17 322.88,478.58 323.25,479.50 C323.62,480.42 324.08,477.71 324.50,478.00 C324.92,478.29 325.33,480.42 325.75,481.25 C326.17,482.08 326.58,483.00 327.00,483.00 C327.42,483.00 327.83,481.00 328.25,481.25 C328.67,481.50 329.04,484.08 329.50,484.50 C329.96,484.92 330.54,485.12 331.00,483.75 C331.46,482.38 331.83,478.96 332.25,476.25 C332.67,473.54 333.17,469.04 333.50,467.50 C333.83,465.96 333.96,465.75 334.25,467.00 C334.54,468.25 334.88,471.17 335.25,475.00 C335.62,478.83 336.04,486.46 336.50,490.00 C336.96,493.54 337.50,495.12 338.00,496.25 C338.50,497.38 338.83,496.62 339.50,496.75 C340.17,496.88 341.58,496.96 342.00,497.00" fill="none" stroke="#000" stroke-width="1.7" stroke-linejoin="round" clip-path="url(#cp259)"/>
<line x1="259.6" y1="414.5" x2="358.8" y2="414.5" stroke="#000" stroke-width="1.2"/>
<line x1="259.90000000000003" y1="410.9" x2="259.90000000000003" y2="418.1" stroke="#000" stroke-width="1.5"/>
<line x1="305" y1="410.9" x2="305" y2="418.1" stroke="#000" stroke-width="1.5"/>
<line x1="358.5" y1="410.9" x2="358.5" y2="418.1" stroke="#000" stroke-width="1.5"/>
<text x="283.5" y="412.9" font-size="6.8" font-weight="bold" fill="#000" text-anchor="middle">40.2</text>
<text x="332.3" y="412.9" font-size="6.8" font-weight="bold" fill="#000" text-anchor="middle">59.8</text>
<text x="309.3" y="395.1" font-size="8.1" font-weight="bold" fill="#000" text-anchor="middle" textLength="41.0" lengthAdjust="spacingAndGlyphs">shN-cad-2</text>
<line x1="257.0" y1="411.8" x2="259.6" y2="411.8" stroke="#0a0a0a" stroke-width="1.1"/>
<text x="255.00000000000003" y="413.8" font-size="5.5" font-weight="bold" fill="#000" text-anchor="end">2.0</text>
<line x1="257.0" y1="433.2" x2="259.6" y2="433.2" stroke="#0a0a0a" stroke-width="1.1"/>
<text x="255.00000000000003" y="435.2" font-size="5.5" font-weight="bold" fill="#000" text-anchor="end">1.5</text>
<line x1="257.0" y1="454.5" x2="259.6" y2="454.5" stroke="#0a0a0a" stroke-width="1.1"/>
<text x="255.00000000000003" y="456.5" font-size="5.5" font-weight="bold" fill="#000" text-anchor="end">1.0</text>
<line x1="257.0" y1="475.9" x2="259.6" y2="475.9" stroke="#0a0a0a" stroke-width="1.1"/>
<text x="255.00000000000003" y="477.9" font-size="5.5" font-weight="bold" fill="#000" text-anchor="end">0.5</text>
<line x1="257.0" y1="497.2" x2="259.6" y2="497.2" stroke="#0a0a0a" stroke-width="1.1"/>
<text x="255.00000000000003" y="499.2" font-size="5.5" font-weight="bold" fill="#000" text-anchor="end">0</text>
<line x1="258.0" y1="492.92" x2="259.6" y2="492.92" stroke="#111" stroke-width="0.9"/>
<line x1="258.0" y1="488.64" x2="259.6" y2="488.64" stroke="#111" stroke-width="0.9"/>
<line x1="258.0" y1="484.36" x2="259.6" y2="484.36" stroke="#111" stroke-width="0.9"/>
<line x1="258.0" y1="480.08" x2="259.6" y2="480.08" stroke="#111" stroke-width="0.9"/>
<line x1="258.0" y1="471.52" x2="259.6" y2="471.52" stroke="#111" stroke-width="0.9"/>
<line x1="258.0" y1="467.24" x2="259.6" y2="467.24" stroke="#111" stroke-width="0.9"/>
<line x1="258.0" y1="462.96" x2="259.6" y2="462.96" stroke="#111" stroke-width="0.9"/>
<line x1="258.0" y1="458.68" x2="259.6" y2="458.68" stroke="#111" stroke-width="0.9"/>
<line x1="258.0" y1="450.12" x2="259.6" y2="450.12" stroke="#111" stroke-width="0.9"/>
<line x1="258.0" y1="445.84" x2="259.6" y2="445.84" stroke="#111" stroke-width="0.9"/>
<line x1="258.0" y1="441.56" x2="259.6" y2="441.56" stroke="#111" stroke-width="0.9"/>
<line x1="258.0" y1="437.28" x2="259.6" y2="437.28" stroke="#111" stroke-width="0.9"/>
<line x1="258.0" y1="428.72" x2="259.6" y2="428.72" stroke="#111" stroke-width="0.9"/>
<line x1="258.0" y1="424.44" x2="259.6" y2="424.44" stroke="#111" stroke-width="0.9"/>
<line x1="258.0" y1="420.16" x2="259.6" y2="420.16" stroke="#111" stroke-width="0.9"/>
<line x1="258.0" y1="415.88" x2="259.6" y2="415.88" stroke="#111" stroke-width="0.9"/>
<line x1="258.0" y1="407.32" x2="259.6" y2="407.32" stroke="#111" stroke-width="0.9"/>
<line x1="258.0" y1="403.04" x2="259.6" y2="403.04" stroke="#111" stroke-width="0.9"/>
<line x1="259.6" y1="497.2" x2="259.6" y2="500.5" stroke="#000" stroke-width="1.3"/>
<text x="259.6" y="507.0" font-size="5.6" font-weight="bold" fill="#000" text-anchor="middle">0</text>
<line x1="278.6" y1="497.2" x2="278.6" y2="500.5" stroke="#000" stroke-width="1.3"/>
<text x="278.6" y="507.0" font-size="5.6" font-weight="bold" fill="#000" text-anchor="middle">50K</text>
<line x1="297.6" y1="497.2" x2="297.6" y2="500.5" stroke="#000" stroke-width="1.3"/>
<text x="297.6" y="507.0" font-size="5.6" font-weight="bold" fill="#000" text-anchor="middle">100K</text>
<line x1="316.6" y1="497.2" x2="316.6" y2="500.5" stroke="#000" stroke-width="1.3"/>
<text x="316.6" y="507.0" font-size="5.6" font-weight="bold" fill="#000" text-anchor="middle">150K</text>
<line x1="335.6" y1="497.2" x2="335.6" y2="500.5" stroke="#000" stroke-width="1.3"/>
<text x="335.6" y="507.0" font-size="5.6" font-weight="bold" fill="#000" text-anchor="middle">200K</text>
<line x1="354.6" y1="497.2" x2="354.6" y2="500.5" stroke="#000" stroke-width="1.3"/>
<text x="354.6" y="507.0" font-size="5.6" font-weight="bold" fill="#000" text-anchor="middle">250K</text>
<line x1="263.4" y1="497.2" x2="263.4" y2="499.59999999999997" stroke="#000" stroke-width="1.2"/>
<line x1="267.2" y1="497.2" x2="267.2" y2="499.59999999999997" stroke="#000" stroke-width="1.2"/>
<line x1="271.0" y1="497.2" x2="271.0" y2="499.59999999999997" stroke="#000" stroke-width="1.2"/>
<line x1="274.8" y1="497.2" x2="274.8" y2="499.59999999999997" stroke="#000" stroke-width="1.2"/>
<line x1="282.4" y1="497.2" x2="282.4" y2="499.59999999999997" stroke="#000" stroke-width="1.2"/>
<line x1="286.2" y1="497.2" x2="286.2" y2="499.59999999999997" stroke="#000" stroke-width="1.2"/>
<line x1="290.0" y1="497.2" x2="290.0" y2="499.59999999999997" stroke="#000" stroke-width="1.2"/>
<line x1="293.8" y1="497.2" x2="293.8" y2="499.59999999999997" stroke="#000" stroke-width="1.2"/>
<line x1="301.4" y1="497.2" x2="301.4" y2="499.59999999999997" stroke="#000" stroke-width="1.2"/>
<line x1="305.2" y1="497.2" x2="305.2" y2="499.59999999999997" stroke="#000" stroke-width="1.2"/>
<line x1="309.0" y1="497.2" x2="309.0" y2="499.59999999999997" stroke="#000" stroke-width="1.2"/>
<line x1="312.8" y1="497.2" x2="312.8" y2="499.59999999999997" stroke="#000" stroke-width="1.2"/>
<line x1="320.4" y1="497.2" x2="320.4" y2="499.59999999999997" stroke="#000" stroke-width="1.2"/>
<line x1="324.2" y1="497.2" x2="324.2" y2="499.59999999999997" stroke="#000" stroke-width="1.2"/>
<line x1="328.0" y1="497.2" x2="328.0" y2="499.59999999999997" stroke="#000" stroke-width="1.2"/>
<line x1="331.8" y1="497.2" x2="331.8" y2="499.59999999999997" stroke="#000" stroke-width="1.2"/>
<line x1="339.4" y1="497.2" x2="339.4" y2="499.59999999999997" stroke="#000" stroke-width="1.2"/>
<line x1="343.2" y1="497.2" x2="343.2" y2="499.59999999999997" stroke="#000" stroke-width="1.2"/>
<line x1="347.0" y1="497.2" x2="347.0" y2="499.59999999999997" stroke="#000" stroke-width="1.2"/>
<line x1="350.8" y1="497.2" x2="350.8" y2="499.59999999999997" stroke="#000" stroke-width="1.2"/>
<text x="7.3" y="447.8" font-size="7.6" font-weight="bold" fill="#000" text-anchor="middle" textLength="41.5" lengthAdjust="spacingAndGlyphs" transform="rotate(-90 7.3 447.8)">No. of cells</text>
<text x="58" y="523.2" font-size="7.6" font-weight="bold" fill="#000" textLength="30.5" lengthAdjust="spacingAndGlyphs">Hoechst</text>
<line x1="90" y1="520.7" x2="354" y2="520.7" stroke="#000" stroke-width="1.5"/>
<polygon points="360,520.7 352.5,518 352.5,523.4" fill="#000"/>
<text x="382.6" y="387.9" font-size="10.8" font-weight="bold" fill="#000">E</text>
<rect x="409.80" y="398.40" width="105.70" height="123.00" fill="#fff" stroke="#0a0a0a" stroke-width="1.3"/>
<line x1="407.2" y1="521.4" x2="409.8" y2="521.4" stroke="#0a0a0a" stroke-width="1.2"/>
<text x="406.9" y="524.0" font-size="7.4" font-weight="bold" fill="#000" text-anchor="end">0</text>
<line x1="407.2" y1="507.73" x2="409.8" y2="507.73" stroke="#0a0a0a" stroke-width="1.2"/>
<text x="406.9" y="510.33" font-size="7.4" font-weight="bold" fill="#000" text-anchor="end">10</text>
<line x1="407.2" y1="494.07" x2="409.8" y2="494.07" stroke="#0a0a0a" stroke-width="1.2"/>
<text x="406.9" y="496.67" font-size="7.4" font-weight="bold" fill="#000" text-anchor="end">20</text>
<line x1="407.2" y1="480.4" x2="409.8" y2="480.4" stroke="#0a0a0a" stroke-width="1.2"/>
<text x="406.9" y="483.0" font-size="7.4" font-weight="bold" fill="#000" text-anchor="end">30</text>
<line x1="407.2" y1="466.73" x2="409.8" y2="466.73" stroke="#0a0a0a" stroke-width="1.2"/>
<text x="406.9" y="469.33" font-size="7.4" font-weight="bold" fill="#000" text-anchor="end">40</text>
<line x1="407.2" y1="453.07" x2="409.8" y2="453.07" stroke="#0a0a0a" stroke-width="1.2"/>
<text x="406.9" y="455.67" font-size="7.4" font-weight="bold" fill="#000" text-anchor="end">50</text>
<line x1="407.2" y1="439.4" x2="409.8" y2="439.4" stroke="#0a0a0a" stroke-width="1.2"/>
<text x="406.9" y="442.0" font-size="7.4" font-weight="bold" fill="#000" text-anchor="end">60</text>
<line x1="407.2" y1="425.73" x2="409.8" y2="425.73" stroke="#0a0a0a" stroke-width="1.2"/>
<text x="406.9" y="428.33" font-size="7.4" font-weight="bold" fill="#000" text-anchor="end">70</text>
<line x1="407.2" y1="412.07" x2="409.8" y2="412.07" stroke="#0a0a0a" stroke-width="1.2"/>
<text x="406.9" y="414.67" font-size="7.4" font-weight="bold" fill="#000" text-anchor="end">80</text>
<text x="406.9" y="401.0" font-size="7.4" font-weight="bold" fill="#000" text-anchor="end">90</text>
<rect x="416.30" y="427.10" width="27.40" height="94.30" fill="#000" stroke="none" stroke-width="1"/>
<line x1="430.0" y1="416.17" x2="430.0" y2="427.1" stroke="#000" stroke-width="1.2"/>
<line x1="419.1" y1="416.17" x2="440.9" y2="416.17" stroke="#000" stroke-width="1.3"/>
<rect x="450.70" y="488.87" width="27.60" height="32.53" fill="#000" stroke="none" stroke-width="1"/>
<line x1="464.5" y1="480.81" x2="464.5" y2="488.87" stroke="#000" stroke-width="1.2"/>
<line x1="453.6" y1="480.81" x2="475.4" y2="480.81" stroke="#000" stroke-width="1.3"/>
<rect x="485.10" y="463.59" width="27.60" height="57.81" fill="#000" stroke="none" stroke-width="1"/>
<line x1="498.9" y1="460.31" x2="498.9" y2="463.59" stroke="#000" stroke-width="1.2"/>
<line x1="488.0" y1="460.31" x2="509.79999999999995" y2="460.31" stroke="#000" stroke-width="1.3"/>
<path d="M429.7,411.2 V403.5 H500.5 V406.4" fill="none" stroke="#000" stroke-width="1.3"/>
<path d="M429.7,408.2 H465 V411.2" fill="none" stroke="#000" stroke-width="1.3"/>
<text x="451.7" y="422.4" font-size="17" font-weight="bold" fill="#000" text-anchor="middle">**</text>
<text x="482.6" y="417.2" font-size="17" font-weight="bold" fill="#000" text-anchor="middle">**</text>
<text x="390.4" y="464.4" font-size="8.2" font-weight="bold" fill="#000" text-anchor="middle" textLength="106.5" lengthAdjust="spacingAndGlyphs" transform="rotate(-90 390.4 464.4)">% G0/G1 cells in GFP⁺ LSK</text>
<text x="433.3" y="524" font-size="8.2" font-weight="bold" text-anchor="end" textLength="37.6" lengthAdjust="spacingAndGlyphs" transform="rotate(-90 433.3 524)">Scramble</text>
<text x="468.0" y="524" font-size="8.2" font-weight="bold" text-anchor="end" textLength="40.4" lengthAdjust="spacingAndGlyphs" transform="rotate(-90 468.0 524)">shN-cad-1</text>
<text x="502.3" y="524" font-size="8.2" font-weight="bold" text-anchor="end" textLength="40.4" lengthAdjust="spacingAndGlyphs" transform="rotate(-90 502.3 524)">shN-cad-2</text>
</svg></body></html>
